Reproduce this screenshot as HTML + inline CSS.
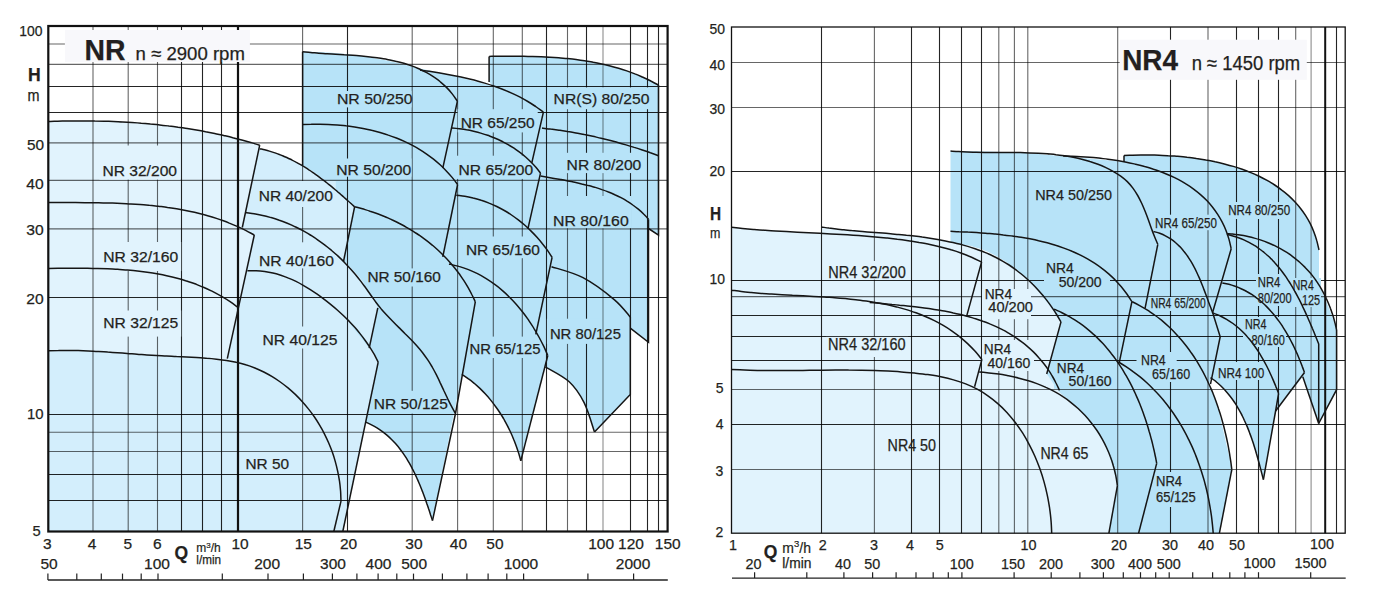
<!DOCTYPE html>
<html><head><meta charset="utf-8"><style>
html,body{margin:0;padding:0;background:#fff;width:1383px;height:603px;overflow:hidden}
svg{display:block;font-family:"Liberation Sans",sans-serif}
</style></head><body>
<svg width="1383" height="603" viewBox="0 0 1383 603">
<rect width="1383" height="603" fill="#fff"/>
<path d="M48.3,121.5 C49.8,121.5 54.5,121.3 57.6,121.2 C60.7,121.1 63.8,121.1 66.9,121 C70,121 73.1,120.9 76.2,120.9 C79.3,120.9 82.4,120.9 85.5,120.9 C88.6,120.9 91.7,120.9 94.8,121 C97.9,121 101,121.1 104.1,121.2 C107.2,121.3 110.3,121.4 113.4,121.5 C116.5,121.6 119.6,121.8 122.7,121.9 C125.8,122.1 128.9,122.3 131.9,122.5 C135,122.7 138.1,122.9 141.2,123.2 C144.3,123.4 147.4,123.7 150.4,124 C153.5,124.2 156.6,124.6 159.7,124.9 C162.8,125.2 165.8,125.6 168.9,126 C172,126.3 175,126.7 178.1,127.2 C181.2,127.6 184.2,128.1 187.3,128.5 C190.3,129 193.4,129.5 196.4,130 C199.5,130.6 202.5,131.1 205.6,131.7 C208.6,132.3 211.6,132.9 214.7,133.5 C217.7,134.2 220.7,134.8 223.7,135.5 C226.7,136.2 229.8,136.9 232.8,137.7 C235.8,138.4 238.8,139.2 241.8,140 C244.8,140.8 247.8,141.7 250.8,142.5 C253.7,143.4 258.2,144.8 259.7,145.2 L259.7,148.7 C260.5,148.9 263,149.4 264.6,149.8 C266.2,150.2 267.8,150.6 269.4,151.1 C271,151.6 272.5,152.1 274.1,152.6 C275.6,153.1 277.2,153.7 278.7,154.2 C280.2,154.8 281.7,155.4 283.2,156 C284.7,156.7 286.2,157.3 287.7,158 C289.2,158.7 290.6,159.4 292.1,160.1 C293.5,160.8 295,161.6 296.4,162.4 C297.8,163.1 299.2,163.9 300.6,164.7 C302,165.6 303.4,166.4 304.8,167.2 C306.2,168.1 307.6,169 308.9,169.9 C310.3,170.7 311.6,171.6 313,172.6 C314.3,173.5 315.7,174.4 317,175.4 C318.3,176.3 319.6,177.3 320.9,178.3 C322.2,179.2 323.5,180.2 324.8,181.2 C326.1,182.2 327.4,183.3 328.7,184.3 C330,185.3 331.2,186.3 332.5,187.4 C333.8,188.4 335,189.5 336.3,190.5 C337.5,191.6 338.7,192.7 340,193.7 C341.2,194.8 342.5,195.9 343.7,197 C344.9,198.1 346.1,199.1 347.3,200.2 C348.6,201.3 349.8,202.4 351,203.5 C352.2,204.6 354,206.3 354.6,206.8 L354.6,206.8 L343.5,261.5 L343.5,261.5 C344.1,261.9 343.7,260.5 347,264 C350.3,267.5 358,275 363.1,282.3 C368.2,289.6 375.4,303.6 377.8,307.8 L377.8,307.8 L369.2,348.1 L369.2,348.1 L378.2,362.1 L378.2,362.1 L342.8,531.5 L342.8,531.5 L48.3,531.5 L48.3,121.5 Z" fill="#d3eefc"/>
<path d="M48.3,121.5 C49.8,121.5 54.5,121.3 57.6,121.2 C60.7,121.1 63.8,121.1 66.9,121 C70,121 73.1,120.9 76.2,120.9 C79.3,120.9 82.4,120.9 85.5,120.9 C88.6,120.9 91.7,120.9 94.8,121 C97.9,121 101,121.1 104.1,121.2 C107.2,121.3 110.3,121.4 113.4,121.5 C116.5,121.6 119.6,121.8 122.7,121.9 C125.8,122.1 128.9,122.3 131.9,122.5 C135,122.7 138.1,122.9 141.2,123.2 C144.3,123.4 147.4,123.7 150.4,124 C153.5,124.2 156.6,124.6 159.7,124.9 C162.8,125.2 165.8,125.6 168.9,126 C172,126.3 175,126.7 178.1,127.2 C181.2,127.6 184.2,128.1 187.3,128.5 C190.3,129 193.4,129.5 196.4,130 C199.5,130.6 202.5,131.1 205.6,131.7 C208.6,132.3 211.6,132.9 214.7,133.5 C217.7,134.2 220.7,134.8 223.7,135.5 C226.7,136.2 229.8,136.9 232.8,137.7 C235.8,138.4 238.8,139.2 241.8,140 C244.8,140.8 247.8,141.7 250.8,142.5 C253.7,143.4 258.2,144.8 259.7,145.2 L259.7,145.2 L242.3,227.5 L242.3,227.5 L254.3,235 L254.3,235 L227.3,358.6 L238.3,362.4 C236.7,362.3 232,361.8 228.8,361.5 C225.7,361.3 222.5,361 219.4,360.7 C216.2,360.4 213,360.1 209.9,359.8 C206.7,359.5 203.6,359.2 200.4,358.9 C197.2,358.6 194.1,358.3 190.9,358.1 C187.8,357.8 184.6,357.5 181.4,357.2 C178.3,356.9 175.1,356.6 172,356.4 C168.8,356.1 165.6,355.8 162.5,355.6 C159.3,355.3 156.1,355 153,354.8 C149.8,354.5 146.6,354.3 143.5,354.1 C140.3,353.8 137.2,353.6 134,353.4 C130.8,353.2 127.6,353 124.5,352.8 C121.3,352.6 118.1,352.4 115,352.2 C111.8,352.1 108.6,351.9 105.5,351.7 C102.3,351.6 99.1,351.5 95.9,351.3 C92.8,351.2 89.6,351.1 86.4,351 C83.3,350.9 80.1,350.9 76.9,350.8 C73.7,350.8 70.6,350.7 67.4,350.7 C64.2,350.7 61,350.7 57.8,350.7 C54.7,350.7 49.9,350.8 48.3,350.8 L48.3,121.5 Z" fill="#e1f3fd"/>
<path d="M302.6,51.7 C304,51.7 308.3,51.7 311.1,51.8 C313.9,51.9 316.8,52 319.6,52.1 C322.4,52.2 325.2,52.4 328.1,52.5 C330.9,52.7 333.7,52.9 336.6,53.2 C339.4,53.4 342.2,53.7 345,54 C347.8,54.3 350.7,54.6 353.5,54.9 C356.3,55.3 359.1,55.7 361.9,56.1 C364.7,56.5 367.5,56.9 370.3,57.4 C373.1,57.8 375.9,58.3 378.7,58.9 C381.5,59.4 384.2,59.9 387,60.5 C389.8,61.1 392.6,61.7 395.3,62.3 C398.1,62.9 400.8,63.5 403.6,64.2 C406.3,64.9 409.1,65.6 411.8,66.3 C414.6,67.1 418.6,68.2 420,68.6 L449,74.4 L492.6,86 L489.1,82 L489.1,56.4 L489.1,56.4 C490.5,56.4 494.8,56.3 497.7,56.3 C500.5,56.3 503.4,56.3 506.3,56.3 C509.2,56.2 512.1,56.2 515,56.3 C517.9,56.3 520.8,56.3 523.7,56.3 C526.6,56.4 529.5,56.4 532.4,56.5 C535.4,56.6 538.3,56.7 541.2,56.8 C544.1,56.9 547,57.1 549.9,57.2 C552.9,57.4 555.8,57.6 558.7,57.8 C561.6,58.1 564.5,58.3 567.4,58.6 C570.3,58.9 573.2,59.2 576.1,59.6 C579,60 581.8,60.4 584.7,60.8 C587.6,61.3 590.4,61.7 593.3,62.3 C596.1,62.8 599,63.4 601.8,64 C604.6,64.6 607.4,65.3 610.2,66 C613,66.7 615.8,67.5 618.6,68.3 C621.3,69.1 624.1,70 626.8,70.9 C629.5,71.8 632.2,72.8 634.9,73.9 C637.6,74.9 640.3,76.1 642.9,77.2 C645.6,78.4 648.2,79.6 650.8,81 C653.4,82.3 657.2,84.4 658.5,85.1 L658.5,235.1 L648.5,228.5 L648.5,342.3 L630.3,328.1 L630.3,394.4 L594.5,432 L594.5,432 C592.8,427.1 588.3,411.1 584.1,402.7 C579.9,394.3 575.7,387.8 569.2,381.8 C562.7,375.8 549.3,369.4 545.3,366.9 L547.8,355.5 L520.8,460.9 L520.8,460.9 C520.5,459.7 519.5,456 518.8,453.6 C518,451.2 517.2,448.8 516.4,446.4 C515.5,444 514.6,441.6 513.6,439.3 C512.7,436.9 511.7,434.5 510.6,432.2 C509.5,429.9 508.4,427.6 507.2,425.3 C506,423 504.7,420.7 503.5,418.5 C502.2,416.3 500.8,414.1 499.4,412 C498,409.8 496.5,407.7 495,405.7 C493.5,403.6 491.9,401.6 490.3,399.6 C488.7,397.6 487,395.7 485.2,393.8 C483.5,392 481.7,390.2 479.9,388.4 C478,386.7 476.1,385 474.2,383.3 C472.2,381.7 470.2,380.1 468.1,378.7 C466.1,377.2 462.9,375.1 461.8,374.4 L461.8,374.4 L432.5,520.6 L432.5,520.6 C432.2,519.7 431.3,516.8 430.6,514.9 C430,513 429.4,511.1 428.7,509.1 C428.1,507.2 427.4,505.3 426.7,503.3 C426.1,501.4 425.4,499.4 424.7,497.5 C424,495.5 423.2,493.6 422.5,491.6 C421.7,489.7 421,487.8 420.2,485.8 C419.4,483.9 418.6,482 417.8,480.1 C416.9,478.2 416.1,476.3 415.2,474.4 C414.3,472.6 413.4,470.7 412.4,468.9 C411.5,467 410.5,465.2 409.5,463.4 C408.5,461.7 407.4,459.9 406.4,458.2 C405.3,456.4 404.1,454.7 403,453.1 C401.8,451.4 400.6,449.8 399.4,448.2 C398.1,446.6 396.8,445.1 395.5,443.6 C394.1,442.1 392.7,440.6 391.3,439.2 C389.9,437.8 388.4,436.4 386.9,435.1 C385.3,433.8 383.7,432.5 382.1,431.3 C380.4,430.1 378.7,429 377,427.9 C375.2,426.8 373.4,425.8 371.5,424.8 C369.6,423.8 366.7,422.5 365.7,422.1 L365.7,422.1 L378.2,362.1 L378.2,362.1 C375.7,357.8 368.3,343.3 363.1,336.3 C357.9,329.3 349.7,322.8 347,320.1 L369.2,348.1 L377.8,307.8 L377.8,307.8 C375.4,303.6 368.2,289.6 363.1,282.3 C358,275 350.3,267.5 347,264 C343.7,260.5 344.1,261.9 343.5,261.5 L343.5,261.5 L354.6,206.8 L354.6,206.8 C354,206.3 352.1,204.9 350.8,203.9 C349.6,202.9 348.3,201.8 347.1,200.8 C345.9,199.8 344.7,198.7 343.5,197.7 C342.3,196.6 341.1,195.6 339.9,194.5 C338.7,193.4 337.5,192.4 336.3,191.3 C335.2,190.2 334,189.1 332.8,188.1 C331.6,187 330.4,185.9 329.2,184.9 C328,183.8 326.8,182.7 325.6,181.7 C324.4,180.7 323.2,179.6 322,178.6 C320.7,177.6 319.5,176.6 318.2,175.6 C317,174.6 315.7,173.7 314.4,172.7 C313.1,171.8 311.8,170.9 310.5,170 C309.1,169.1 307.8,168.3 306.4,167.5 C305,166.6 302.9,165.5 302.2,165.1 L302.2,165.1 L302.6,51.7 Z" fill="#b7e3f8"/>
<line x1="93" y1="26" x2="93" y2="531.5" stroke="rgba(0,0,0,0.6)" stroke-width="1.1"/>
<line x1="128.2" y1="26" x2="128.2" y2="531.5" stroke="rgba(0,0,0,0.6)" stroke-width="1.1"/>
<line x1="157.5" y1="26" x2="157.5" y2="531.5" stroke="rgba(0,0,0,0.6)" stroke-width="1.1"/>
<line x1="181.5" y1="26" x2="181.5" y2="531.5" stroke="rgba(0,0,0,0.86)" stroke-width="1.1"/>
<line x1="202.5" y1="26" x2="202.5" y2="531.5" stroke="rgba(0,0,0,0.86)" stroke-width="1.1"/>
<line x1="221.5" y1="26" x2="221.5" y2="531.5" stroke="rgba(0,0,0,0.86)" stroke-width="1.1"/>
<line x1="302.6" y1="26" x2="302.6" y2="531.5" stroke="rgba(0,0,0,0.6)" stroke-width="1.1"/>
<line x1="347.5" y1="26" x2="347.5" y2="531.5" stroke="rgba(0,0,0,0.86)" stroke-width="1.1"/>
<line x1="412.2" y1="26" x2="412.2" y2="531.5" stroke="rgba(0,0,0,0.6)" stroke-width="1.1"/>
<line x1="457.6" y1="26" x2="457.6" y2="531.5" stroke="rgba(0,0,0,0.6)" stroke-width="1.1"/>
<line x1="493.3" y1="26" x2="493.3" y2="531.5" stroke="rgba(0,0,0,0.6)" stroke-width="1.1"/>
<line x1="522.3" y1="26" x2="522.3" y2="531.5" stroke="rgba(0,0,0,0.6)" stroke-width="1.1"/>
<line x1="546.5" y1="26" x2="546.5" y2="531.5" stroke="rgba(0,0,0,0.86)" stroke-width="1.1"/>
<line x1="567.5" y1="26" x2="567.5" y2="531.5" stroke="rgba(0,0,0,0.6)" stroke-width="1.1"/>
<line x1="586.5" y1="26" x2="586.5" y2="531.5" stroke="rgba(0,0,0,0.86)" stroke-width="1.1"/>
<line x1="603" y1="26" x2="603" y2="531.5" stroke="rgba(0,0,0,0.45)" stroke-width="1.1"/>
<line x1="630.5" y1="26" x2="630.5" y2="531.5" stroke="rgba(0,0,0,0.86)" stroke-width="1.1"/>
<line x1="647.5" y1="26" x2="647.5" y2="531.5" stroke="rgba(0,0,0,0.86)" stroke-width="1.1"/>
<line x1="658.5" y1="26" x2="658.5" y2="531.5" stroke="rgba(0,0,0,0.86)" stroke-width="1.1"/>
<line x1="238" y1="26" x2="238" y2="531.5" stroke="#111" stroke-width="2.2"/>
<line x1="48.3" y1="44" x2="667.6" y2="44" stroke="rgba(0,0,0,0.6)" stroke-width="1.1"/>
<line x1="48.3" y1="64.4" x2="667.6" y2="64.4" stroke="rgba(0,0,0,0.6)" stroke-width="1.1"/>
<line x1="48.3" y1="86.5" x2="667.6" y2="86.5" stroke="rgba(0,0,0,0.86)" stroke-width="1.1"/>
<line x1="48.3" y1="112.5" x2="667.6" y2="112.5" stroke="rgba(0,0,0,0.86)" stroke-width="1.1"/>
<line x1="48.3" y1="142.9" x2="667.6" y2="142.9" stroke="rgba(0,0,0,0.6)" stroke-width="1.1"/>
<line x1="48.3" y1="180.4" x2="667.6" y2="180.4" stroke="rgba(0,0,0,0.6)" stroke-width="1.1"/>
<line x1="48.3" y1="228.9" x2="667.6" y2="228.9" stroke="rgba(0,0,0,0.6)" stroke-width="1.1"/>
<line x1="48.3" y1="297.5" x2="667.6" y2="297.5" stroke="rgba(0,0,0,0.86)" stroke-width="1.1"/>
<line x1="48.3" y1="414.5" x2="667.6" y2="414.5" stroke="rgba(0,0,0,0.86)" stroke-width="1.1"/>
<line x1="48.3" y1="432.3" x2="667.6" y2="432.3" stroke="rgba(0,0,0,0.6)" stroke-width="1.1"/>
<line x1="48.3" y1="451.5" x2="667.6" y2="451.5" stroke="rgba(0,0,0,0.6)" stroke-width="1.1"/>
<line x1="48.3" y1="474.5" x2="667.6" y2="474.5" stroke="rgba(0,0,0,0.86)" stroke-width="1.1"/>
<line x1="48.3" y1="500.5" x2="667.6" y2="500.5" stroke="rgba(0,0,0,0.86)" stroke-width="1.1"/>
<rect x="99.4" y="145.5" width="80.6" height="34.1" fill="#e1f3fd"/>
<rect x="100.3" y="242" width="80.9" height="29" fill="#e1f3fd"/>
<rect x="100.3" y="310.5" width="80.9" height="26.1" fill="#e1f3fd"/>
<rect x="255.7" y="181" width="80.1" height="26" fill="#d3eefc"/>
<rect x="256" y="242.3" width="81" height="26.1" fill="#d3eefc"/>
<rect x="259.5" y="326.5" width="80.9" height="22" fill="#d3eefc"/>
<rect x="242.5" y="455" width="49.6" height="18.8" fill="#d3eefc"/>
<rect x="333.9" y="91" width="77.6" height="16.4" fill="#b7e3f8"/>
<rect x="333.3" y="158.5" width="78.2" height="18.2" fill="#b7e3f8"/>
<rect x="364.4" y="268.4" width="79.4" height="18.1" fill="#b7e3f8"/>
<rect x="370.8" y="390.8" width="80" height="22.8" fill="#b7e3f8"/>
<rect x="457.7" y="109.2" width="80" height="23.2" fill="#b7e3f8"/>
<rect x="455.6" y="155.7" width="80.6" height="23.2" fill="#b7e3f8"/>
<rect x="462.9" y="236.5" width="80" height="21.7" fill="#b7e3f8"/>
<rect x="466.4" y="336.6" width="77.1" height="21.4" fill="#b7e3f8"/>
<rect x="550.6" y="87.4" width="101.8" height="21.8" fill="#b7e3f8"/>
<rect x="563.6" y="152.8" width="80.7" height="20.3" fill="#b7e3f8"/>
<rect x="550.1" y="196" width="81.6" height="32.2" fill="#b7e3f8"/>
<rect x="546.9" y="318.7" width="54.7" height="25.2" fill="#b7e3f8"/>
<path d="M48.3,121.5 C49.8,121.5 54.5,121.3 57.6,121.2 C60.7,121.1 63.8,121.1 66.9,121 C70,121 73.1,120.9 76.2,120.9 C79.3,120.9 82.4,120.9 85.5,120.9 C88.6,120.9 91.7,120.9 94.8,121 C97.9,121 101,121.1 104.1,121.2 C107.2,121.3 110.3,121.4 113.4,121.5 C116.5,121.6 119.6,121.8 122.7,121.9 C125.8,122.1 128.9,122.3 131.9,122.5 C135,122.7 138.1,122.9 141.2,123.2 C144.3,123.4 147.4,123.7 150.4,124 C153.5,124.2 156.6,124.6 159.7,124.9 C162.8,125.2 165.8,125.6 168.9,126 C172,126.3 175,126.7 178.1,127.2 C181.2,127.6 184.2,128.1 187.3,128.5 C190.3,129 193.4,129.5 196.4,130 C199.5,130.6 202.5,131.1 205.6,131.7 C208.6,132.3 211.6,132.9 214.7,133.5 C217.7,134.2 220.7,134.8 223.7,135.5 C226.7,136.2 229.8,136.9 232.8,137.7 C235.8,138.4 238.8,139.2 241.8,140 C244.8,140.8 247.8,141.7 250.8,142.5 C253.7,143.4 258.2,144.8 259.7,145.2" fill="none" stroke="#151515" stroke-width="1.5"/>
<path d="M259.7,145.2 L242.3,227.5" fill="none" stroke="#151515" stroke-width="1.5"/>
<path d="M259.7,148.7 C260.5,148.9 263,149.4 264.6,149.8 C266.2,150.2 267.8,150.6 269.4,151.1 C271,151.6 272.5,152.1 274.1,152.6 C275.6,153.1 277.2,153.7 278.7,154.2 C280.2,154.8 281.7,155.4 283.2,156 C284.7,156.7 286.2,157.3 287.7,158 C289.2,158.7 290.6,159.4 292.1,160.1 C293.5,160.8 295,161.6 296.4,162.4 C297.8,163.1 299.2,163.9 300.6,164.7 C302,165.6 303.4,166.4 304.8,167.2 C306.2,168.1 307.6,169 308.9,169.9 C310.3,170.7 311.6,171.6 313,172.6 C314.3,173.5 315.7,174.4 317,175.4 C318.3,176.3 319.6,177.3 320.9,178.3 C322.2,179.2 323.5,180.2 324.8,181.2 C326.1,182.2 327.4,183.3 328.7,184.3 C330,185.3 331.2,186.3 332.5,187.4 C333.8,188.4 335,189.5 336.3,190.5 C337.5,191.6 338.7,192.7 340,193.7 C341.2,194.8 342.5,195.9 343.7,197 C344.9,198.1 346.1,199.1 347.3,200.2 C348.6,201.3 349.8,202.4 351,203.5 C352.2,204.6 354,206.3 354.6,206.8" fill="none" stroke="#151515" stroke-width="1.5"/>
<path d="M354.6,206.8 L343.5,261.5" fill="none" stroke="#151515" stroke-width="1.5"/>
<path d="M48.3,202.5 C49.8,202.5 54.3,202.5 57.3,202.6 C60.4,202.6 63.4,202.6 66.4,202.6 C69.5,202.6 72.5,202.6 75.6,202.6 C78.6,202.6 81.7,202.6 84.8,202.7 C87.8,202.7 90.9,202.7 94,202.7 C97,202.8 100.1,202.8 103.2,202.9 C106.3,203 109.4,203 112.4,203.1 C115.5,203.2 118.6,203.3 121.7,203.4 C124.7,203.6 127.8,203.7 130.9,203.9 C134,204.1 137,204.3 140.1,204.5 C143.2,204.7 146.2,205 149.3,205.3 C152.3,205.5 155.4,205.9 158.4,206.2 C161.5,206.6 164.5,206.9 167.5,207.4 C170.6,207.8 173.6,208.3 176.6,208.8 C179.6,209.3 182.6,209.8 185.6,210.4 C188.6,211 191.5,211.6 194.5,212.3 C197.5,213 200.4,213.7 203.4,214.5 C206.3,215.3 209.2,216.1 212.1,217 C215,217.9 217.9,218.8 220.8,219.9 C223.6,220.9 226.5,221.9 229.3,223.1 C232.2,224.2 235,225.4 237.8,226.6 C240.6,227.9 243.4,229.2 246.1,230.6 C248.9,232 252.9,234.3 254.3,235" fill="none" stroke="#151515" stroke-width="1.5"/>
<path d="M254.3,235 L227.3,358.6" fill="none" stroke="#151515" stroke-width="1.5"/>
<path d="M245.5,212.6 C246.9,212.8 251.3,213.3 254.2,213.7 C257,214.2 259.9,214.8 262.7,215.4 C265.5,216 268.3,216.8 271.1,217.6 C273.8,218.3 276.6,219.2 279.3,220.2 C282,221.1 284.7,222.2 287.3,223.3 C290,224.4 292.6,225.5 295.2,226.8 C297.8,228 300.4,229.3 302.9,230.7 C305.4,232.1 307.9,233.5 310.3,235 C312.8,236.6 315.2,238.1 317.6,239.8 C319.9,241.4 322.3,243.1 324.6,244.8 C326.8,246.6 329.1,248.4 331.3,250.2 C333.5,252.1 335.7,254 337.8,255.9 C339.9,257.9 342,259.9 344,261.9 C346,264 348,266.1 349.9,268.2 C351.9,270.3 353.7,272.5 355.6,274.7 C357.4,276.9 359.2,279.2 360.9,281.4 C362.7,283.7 364.3,286 366,288.3 C367.7,290.7 369.3,293 370.9,295.3 C372.6,297.6 374.2,300 375.9,302.2 C377.6,304.5 379.4,306.7 381.2,308.9 C383.1,311.1 385,313.2 386.9,315.3 C388.8,317.4 390.9,319.5 392.9,321.5 C394.9,323.6 396.9,325.6 399,327.6 C401,329.6 403.1,331.6 405.1,333.7 C407.2,335.7 409.2,337.7 411.2,339.8 C413.2,341.9 415.1,344 417,346.1 C418.9,348.3 420.8,350.5 422.6,352.7 C424.3,355 426,357.3 427.6,359.7 C429.2,362 430.7,364.5 432.2,367 C433.6,369.5 435,372.1 436.3,374.7 C437.6,377.3 438.9,379.9 440.1,382.6 C441.4,385.2 442.6,387.9 443.8,390.5 C445.1,393.1 446.3,395.8 447.5,398.4 C448.8,401 450,403.6 451.4,406.1 C452.7,408.6 454.8,412.3 455.5,413.5" fill="none" stroke="#151515" stroke-width="1.5"/>
<path d="M377.8,307.8 L369.2,348.1" fill="none" stroke="#151515" stroke-width="1.5"/>
<path d="M48.3,268.4 C49.9,268.4 54.8,268.4 58,268.3 C61.3,268.3 64.6,268.3 67.9,268.3 C71.1,268.3 74.4,268.3 77.7,268.3 C81,268.3 84.4,268.3 87.7,268.3 C91,268.4 94.3,268.4 97.6,268.5 C101,268.6 104.3,268.7 107.6,268.8 C110.9,269 114.3,269.1 117.6,269.3 C120.9,269.5 124.2,269.8 127.5,270 C130.8,270.3 134.1,270.6 137.4,271 C140.7,271.4 144,271.8 147.2,272.2 C150.5,272.7 153.7,273.2 157,273.8 C160.2,274.4 163.4,275 166.6,275.7 C169.8,276.4 173,277.1 176.2,278 C179.3,278.8 182.5,279.7 185.6,280.7 C188.7,281.6 191.8,282.7 194.9,283.8 C197.9,285 201,286.2 204,287.5 C207,288.8 209.9,290.2 212.9,291.6 C215.8,293.1 218.7,294.7 221.6,296.4 C224.4,298 227.3,299.8 230.1,301.7 C232.8,303.5 236.9,306.6 238.3,307.6" fill="none" stroke="#151515" stroke-width="1.5"/>
<path d="M247.4,270.7 C248.9,270.7 253.3,270.6 256.2,270.7 C259.1,270.8 261.9,271.1 264.7,271.5 C267.5,271.9 270.2,272.4 272.9,273 C275.6,273.6 278.2,274.4 280.8,275.2 C283.4,276.1 286,277 288.5,278.1 C291,279.1 293.5,280.2 296,281.4 C298.4,282.6 300.8,283.9 303.2,285.3 C305.6,286.7 307.9,288.1 310.3,289.6 C312.6,291.1 314.9,292.6 317.2,294.2 C319.5,295.8 321.7,297.5 323.9,299.2 C326.2,300.9 328.4,302.6 330.6,304.4 C332.7,306.1 334.9,307.9 337,309.8 C339.1,311.7 341.2,313.6 343.3,315.5 C345.3,317.4 347.3,319.4 349.3,321.4 C351.2,323.5 353.1,325.5 355,327.6 C356.8,329.7 358.6,331.9 360.4,334.1 C362.1,336.2 363.8,338.5 365.4,340.7 C367.1,343 368.6,345.3 370.1,347.6 C371.6,350 373,352.3 374.4,354.7 C375.7,357.2 377.6,360.9 378.2,362.1" fill="none" stroke="#151515" stroke-width="1.5"/>
<path d="M378.2,362.1 L342.8,531.5" fill="none" stroke="#151515" stroke-width="1.5"/>
<path d="M48.3,350.8 C50,350.7 55,350.5 58.4,350.5 C61.7,350.4 65,350.4 68.3,350.4 C71.6,350.4 74.9,350.5 78.2,350.6 C81.5,350.7 84.8,350.8 88.1,350.9 C91.4,351.1 94.6,351.2 97.9,351.4 C101.1,351.6 104.4,351.8 107.7,352.1 C110.9,352.3 114.2,352.5 117.4,352.7 C120.7,353 123.9,353.2 127.2,353.5 C130.4,353.7 133.7,354 137,354.2 C140.2,354.4 143.5,354.7 146.8,354.9 C150.1,355.1 153.4,355.3 156.6,355.5 C159.9,355.7 163.3,355.8 166.6,356 C169.9,356.2 173.2,356.3 176.5,356.5 C179.9,356.6 183.2,356.8 186.5,356.9 C189.9,357.1 193.2,357.3 196.5,357.5 C199.9,357.7 203.2,358 206.6,358.3 C209.9,358.5 213.2,358.8 216.5,359.2 C219.9,359.6 223.2,360 226.5,360.5 C229.8,361 233,361.5 236.2,362.3 C239.4,363 242.6,363.8 245.7,364.8 C248.9,365.7 251.9,366.8 254.9,368 C257.9,369.2 260.9,370.6 263.8,372 C266.7,373.5 269.5,375 272.2,376.7 C275,378.4 277.7,380.2 280.3,382 C283,383.9 285.5,385.9 288,387.9 C290.5,390 292.9,392.2 295.3,394.4 C297.6,396.7 299.9,399 302.1,401.4 C304.3,403.8 306.4,406.3 308.4,408.9 C310.5,411.5 312.4,414.1 314.3,416.8 C316.2,419.5 317.9,422.3 319.6,425.2 C321.3,428 322.9,430.9 324.4,433.8 C325.9,436.8 327.3,439.8 328.6,442.8 C329.9,445.9 331.2,449 332.3,452.1 C333.4,455.2 334.4,458.4 335.3,461.6 C336.2,464.8 337,468.1 337.7,471.3 C338.4,474.6 339,477.9 339.5,481.2 C340,484.5 340.3,487.8 340.6,491.2 C340.8,494.5 340.9,499.5 341,501.2" fill="none" stroke="#151515" stroke-width="1.5"/>
<path d="M341,501.2 L333.8,531.5" fill="none" stroke="#151515" stroke-width="1.5"/>
<path d="M302.6,51.7 C303.9,51.8 307.9,52.3 310.5,52.5 C313.2,52.7 316,53 318.7,53.2 C321.5,53.4 324.3,53.5 327.1,53.7 C329.9,53.9 332.7,54.1 335.6,54.2 C338.4,54.4 341.3,54.6 344.2,54.8 C347,54.9 349.9,55.1 352.8,55.3 C355.7,55.6 358.6,55.8 361.5,56 C364.4,56.3 367.3,56.6 370.2,56.9 C373,57.3 375.9,57.6 378.8,58 C381.6,58.5 384.4,58.9 387.3,59.4 C390.1,60 392.8,60.5 395.6,61.2 C398.3,61.8 401.1,62.5 403.8,63.3 C406.4,64.1 409.1,65 411.7,65.9 C414.3,66.8 416.8,67.9 419.4,69 C421.9,70.1 424.3,71.3 426.7,72.6 C429.1,73.9 431.4,75.3 433.7,76.9 C436,78.4 438.2,80 440.3,81.8 C442.5,83.6 444.5,85.4 446.5,87.4 C448.5,89.4 450.4,91.6 452.2,93.9 C454,96.1 456.5,99.9 457.4,101.1" fill="none" stroke="#151515" stroke-width="1.5"/>
<path d="M457.4,101.1 L442.8,168.2" fill="none" stroke="#151515" stroke-width="1.5"/>
<path d="M420,70 C421.5,70.2 426.1,70.9 429.2,71.3 C432.3,71.8 435.4,72.3 438.5,72.8 C441.6,73.3 444.7,73.8 447.8,74.4 C450.9,75 454,75.6 457.1,76.2 C460.2,76.8 463.3,77.5 466.4,78.2 C469.5,78.9 472.5,79.7 475.6,80.5 C478.6,81.3 481.7,82.2 484.7,83.1 C487.7,84 490.7,84.9 493.7,86 C496.6,87 499.6,88.1 502.5,89.2 C505.4,90.4 508.3,91.6 511.1,92.9 C514,94.2 516.8,95.5 519.6,96.9 C522.4,98.4 525.1,99.9 527.8,101.5 C530.5,103.1 533.1,104.8 535.7,106.5 C538.3,108.3 542.1,111.2 543.4,112.1" fill="none" stroke="#151515" stroke-width="1.5"/>
<path d="M543.4,112.1 L531.8,162.9" fill="none" stroke="#151515" stroke-width="1.5"/>
<path d="M302.6,124.6 C304,124.5 308.3,124.3 311.2,124.3 C314,124.2 316.9,124.2 319.8,124.2 C322.7,124.2 325.6,124.3 328.5,124.4 C331.4,124.5 334.3,124.7 337.2,124.9 C340.1,125.2 343,125.4 345.9,125.8 C348.8,126.1 351.7,126.5 354.6,126.9 C357.4,127.4 360.3,127.9 363.1,128.4 C366,129 368.8,129.6 371.6,130.3 C374.5,130.9 377.3,131.7 380,132.5 C382.8,133.3 385.6,134.1 388.3,135.1 C391,136 393.7,137 396.4,138 C399.1,139.1 401.7,140.2 404.3,141.4 C406.9,142.6 409.5,143.9 412,145.2 C414.5,146.5 417,147.9 419.4,149.4 C421.9,150.9 424.3,152.5 426.6,154.1 C428.9,155.7 431.2,157.4 433.5,159.2 C435.7,161 437.9,162.9 440.1,164.8 C442.2,166.7 444.3,168.8 446.3,170.9 C448.3,173 450.3,175.2 452.1,177.4 C454,179.7 456.7,183.3 457.6,184.5" fill="none" stroke="#151515" stroke-width="1.5"/>
<path d="M457.6,184.5 L442.8,256.8" fill="none" stroke="#151515" stroke-width="1.5"/>
<path d="M452,128 C453.2,128.1 456.8,128.4 459.2,128.7 C461.6,129 464.1,129.3 466.5,129.8 C468.9,130.2 471.3,130.7 473.6,131.2 C476,131.8 478.4,132.4 480.7,133.1 C483.1,133.8 485.4,134.5 487.7,135.3 C490,136.2 492.3,137 494.6,138 C496.8,138.9 499.1,139.9 501.3,141 C503.4,142.1 505.6,143.2 507.7,144.4 C509.8,145.6 511.9,146.9 514,148.2 C516,149.6 518,150.9 519.9,152.4 C521.9,153.9 523.8,155.4 525.6,157 C527.4,158.6 529.2,160.2 530.9,162 C532.7,163.7 534.3,165.5 535.9,167.3 C537.5,169.2 539.7,172.1 540.5,173.1" fill="none" stroke="#151515" stroke-width="1.5"/>
<path d="M540.5,173.1 L527.9,228.8" fill="none" stroke="#151515" stroke-width="1.5"/>
<path d="M489.1,56.4 C490.5,56.4 494.8,56.3 497.7,56.3 C500.5,56.3 503.4,56.3 506.3,56.3 C509.2,56.2 512.1,56.2 515,56.3 C517.9,56.3 520.8,56.3 523.7,56.3 C526.6,56.4 529.5,56.4 532.4,56.5 C535.4,56.6 538.3,56.7 541.2,56.8 C544.1,56.9 547,57.1 549.9,57.2 C552.9,57.4 555.8,57.6 558.7,57.8 C561.6,58.1 564.5,58.3 567.4,58.6 C570.3,58.9 573.2,59.2 576.1,59.6 C579,60 581.8,60.4 584.7,60.8 C587.6,61.3 590.4,61.7 593.3,62.3 C596.1,62.8 599,63.4 601.8,64 C604.6,64.6 607.4,65.3 610.2,66 C613,66.7 615.8,67.5 618.6,68.3 C621.3,69.1 624.1,70 626.8,70.9 C629.5,71.8 632.2,72.8 634.9,73.9 C637.6,74.9 640.3,76.1 642.9,77.2 C645.6,78.4 648.2,79.6 650.8,81 C653.4,82.3 657.2,84.4 658.5,85.1" fill="none" stroke="#151515" stroke-width="1.5"/>
<path d="M542,128.1 C543.4,128.3 547.7,128.7 550.5,129.1 C553.4,129.4 556.2,129.8 559,130.2 C561.8,130.6 564.7,131 567.5,131.5 C570.3,131.9 573.1,132.4 575.9,132.9 C578.7,133.5 581.6,134 584.4,134.6 C587.2,135.1 590,135.7 592.8,136.3 C595.5,136.9 598.3,137.6 601.1,138.2 C603.9,138.9 606.7,139.6 609.4,140.3 C612.2,141 615,141.8 617.7,142.5 C620.5,143.3 623.2,144.1 626,144.9 C628.7,145.7 631.4,146.5 634.2,147.4 C636.9,148.2 639.6,149.1 642.3,150 C645,150.9 647.7,151.8 650.4,152.8 C653.1,153.7 657.2,155.2 658.5,155.7" fill="none" stroke="#151515" stroke-width="1.5"/>
<path d="M354.6,206.8 C355.9,207.1 359.8,208.1 362.4,208.8 C364.9,209.6 367.5,210.3 370,211.2 C372.6,212 375.1,212.9 377.6,213.8 C380.1,214.7 382.6,215.7 385.1,216.7 C387.5,217.8 390,218.8 392.4,220 C394.8,221.1 397.2,222.2 399.5,223.5 C401.9,224.7 404.2,225.9 406.5,227.3 C408.8,228.6 411.1,229.9 413.3,231.3 C415.5,232.8 417.7,234.2 419.9,235.7 C422.1,237.2 424.2,238.8 426.3,240.4 C428.4,242 430.4,243.6 432.5,245.3 C434.5,247 436.4,248.7 438.4,250.5 C440.3,252.3 442.2,254.1 444,256 C445.9,257.8 447.7,259.8 449.4,261.7 C451.2,263.7 452.9,265.7 454.5,267.7 C456.2,269.8 457.8,271.9 459.4,274 C460.9,276.2 462.4,278.4 463.9,280.6 C465.3,282.8 466.7,285.1 468,287.4 C469.3,289.7 470.6,292.1 471.8,294.5 C473.1,296.9 474.7,300.6 475.3,301.8" fill="none" stroke="#151515" stroke-width="1.5"/>
<path d="M475.3,301.8 L455.5,413.5 L432.5,520.6" fill="none" stroke="#151515" stroke-width="1.5"/>
<path d="M456.3,195.2 C457.7,195.4 462,195.8 464.8,196.2 C467.6,196.6 470.3,197.2 473.1,197.9 C475.8,198.5 478.5,199.3 481.2,200.2 C483.9,201 486.5,202 489.1,203.1 C491.7,204.1 494.3,205.3 496.8,206.5 C499.3,207.8 501.8,209.1 504.3,210.5 C506.7,211.9 509.1,213.4 511.5,215 C513.8,216.6 516.1,218.2 518.3,219.9 C520.6,221.7 522.8,223.5 524.9,225.3 C527,227.2 529.1,229.1 531.1,231.1 C533.1,233.1 535.1,235.1 537,237.2 C538.9,239.3 540.7,241.5 542.4,243.7 C544.2,245.9 545.9,248.1 547.5,250.4 C549.1,252.7 551.3,256.2 552.1,257.4" fill="none" stroke="#151515" stroke-width="1.5"/>
<path d="M552.1,257.4 L535.8,334.4" fill="none" stroke="#151515" stroke-width="1.5"/>
<path d="M540.5,176 C541.6,176.2 545,176.8 547.3,177.2 C549.5,177.6 551.8,178 554.1,178.4 C556.4,178.8 558.7,179.2 561,179.6 C563.3,180.1 565.6,180.5 567.9,180.9 C570.2,181.4 572.5,181.8 574.8,182.3 C577.1,182.8 579.4,183.3 581.7,183.9 C584,184.4 586.3,185 588.5,185.6 C590.8,186.1 593.1,186.8 595.3,187.4 C597.5,188.1 599.7,188.8 601.9,189.6 C604.1,190.3 606.3,191.1 608.5,192 C610.6,192.8 612.7,193.7 614.8,194.7 C616.9,195.6 619,196.6 621,197.7 C623.1,198.8 625.1,199.9 627,201.1 C629,202.3 630.9,203.6 632.8,205 C634.7,206.3 636.5,207.7 638.3,209.2 C640.1,210.7 641.9,212.3 643.6,214 C645.3,215.6 647.7,218.3 648.5,219.2" fill="none" stroke="#151515" stroke-width="1.5"/>
<path d="M449,264 C450.7,264.4 455.7,265.4 458.9,266.4 C462.2,267.3 465.4,268.4 468.5,269.6 C471.6,270.9 474.6,272.2 477.5,273.7 C480.5,275.2 483.4,276.9 486.2,278.6 C489,280.3 491.7,282.2 494.4,284.2 C497.1,286.1 499.7,288.2 502.2,290.4 C504.7,292.5 507.1,294.8 509.5,297.2 C511.9,299.5 514.2,301.9 516.4,304.4 C518.6,307 520.7,309.5 522.8,312.2 C524.9,314.8 526.8,317.6 528.7,320.3 C530.6,323.1 532.5,325.9 534.2,328.8 C536,331.7 537.6,334.6 539.2,337.5 C540.8,340.5 542.3,343.4 543.8,346.4 C545.2,349.4 547.1,354 547.8,355.5" fill="none" stroke="#151515" stroke-width="1.5"/>
<path d="M547.8,355.5 L520.8,460.9" fill="none" stroke="#151515" stroke-width="1.5"/>
<path d="M551.5,266.7 C556.8,268.5 572.5,272.2 583,277.7 C593.5,283.2 606.6,293.2 614.5,299.8 C622.4,306.4 627.7,314.2 630.3,317.1" fill="none" stroke="#151515" stroke-width="1.5"/>
<path d="M365.7,422.1 C366.7,422.5 369.6,423.8 371.5,424.8 C373.4,425.8 375.2,426.8 377,427.9 C378.7,429 380.4,430.1 382.1,431.3 C383.7,432.5 385.3,433.8 386.9,435.1 C388.4,436.4 389.9,437.8 391.3,439.2 C392.7,440.6 394.1,442.1 395.5,443.6 C396.8,445.1 398.1,446.6 399.4,448.2 C400.6,449.8 401.8,451.4 403,453.1 C404.1,454.7 405.3,456.4 406.4,458.2 C407.4,459.9 408.5,461.7 409.5,463.4 C410.5,465.2 411.5,467 412.4,468.9 C413.4,470.7 414.3,472.6 415.2,474.4 C416.1,476.3 416.9,478.2 417.8,480.1 C418.6,482 419.4,483.9 420.2,485.8 C421,487.8 421.7,489.7 422.5,491.6 C423.2,493.6 424,495.5 424.7,497.5 C425.4,499.4 426.1,501.4 426.7,503.3 C427.4,505.3 428.1,507.2 428.7,509.1 C429.4,511.1 430,513 430.6,514.9 C431.3,516.8 432.2,519.7 432.5,520.6" fill="none" stroke="#151515" stroke-width="1.5"/>
<path d="M461.8,374.4 C462.9,375.1 466.1,377.2 468.1,378.7 C470.2,380.1 472.2,381.7 474.2,383.3 C476.1,385 478,386.7 479.9,388.4 C481.7,390.2 483.5,392 485.2,393.8 C487,395.7 488.7,397.6 490.3,399.6 C491.9,401.6 493.5,403.6 495,405.7 C496.5,407.7 498,409.8 499.4,412 C500.8,414.1 502.2,416.3 503.5,418.5 C504.7,420.7 506,423 507.2,425.3 C508.4,427.6 509.5,429.9 510.6,432.2 C511.7,434.5 512.7,436.9 513.6,439.3 C514.6,441.6 515.5,444 516.4,446.4 C517.2,448.8 518,451.2 518.8,453.6 C519.5,456 520.5,459.7 520.8,460.9" fill="none" stroke="#151515" stroke-width="1.5"/>
<path d="M545.3,366.9 C549.3,369.4 562.7,375.8 569.2,381.8 C575.7,387.8 579.9,394.3 584.1,402.7 C588.3,411.1 592.8,427.1 594.5,432" fill="none" stroke="#151515" stroke-width="1.5"/>
<path d="M594.5,432 L630.3,394.4 L630.3,317.1" fill="none" stroke="#151515" stroke-width="1.5"/>
<path d="M630.3,328.1 L648.5,342.3 L648.5,219.2" fill="none" stroke="#151515" stroke-width="1.5"/>
<path d="M648.5,228.5 L658.5,235.1 L658.5,85.1" fill="none" stroke="#151515" stroke-width="1.5"/>
<path d="M302.6,51.7 L302.6,165.1" fill="none" stroke="#151515" stroke-width="1.5"/>
<path d="M489.1,56.4 L489.1,82" fill="none" stroke="#151515" stroke-width="1.5"/>
<text x="102.4" y="176" font-size="15.5" textLength="74.6" lengthAdjust="spacingAndGlyphs" fill="#231f20" stroke="#231f20" stroke-width="0.25">NR 32/200</text>
<text x="103.3" y="262.1" font-size="15.5" textLength="74.9" lengthAdjust="spacingAndGlyphs" fill="#231f20" stroke="#231f20" stroke-width="0.25">NR 32/160</text>
<text x="103.3" y="328.2" font-size="15.5" textLength="74.9" lengthAdjust="spacingAndGlyphs" fill="#231f20" stroke="#231f20" stroke-width="0.25">NR 32/125</text>
<text x="258.7" y="201" font-size="15.5" textLength="74.1" lengthAdjust="spacingAndGlyphs" fill="#231f20" stroke="#231f20" stroke-width="0.25">NR 40/200</text>
<text x="259" y="265.6" font-size="15.5" textLength="75" lengthAdjust="spacingAndGlyphs" fill="#231f20" stroke="#231f20" stroke-width="0.25">NR 40/160</text>
<text x="262.5" y="344.8" font-size="15.5" textLength="74.9" lengthAdjust="spacingAndGlyphs" fill="#231f20" stroke="#231f20" stroke-width="0.25">NR 40/125</text>
<text x="245.5" y="468.8" font-size="15.5" textLength="43.6" lengthAdjust="spacingAndGlyphs" fill="#231f20" stroke="#231f20" stroke-width="0.25">NR 50</text>
<text x="336.9" y="103.7" font-size="15.5" textLength="75.7" lengthAdjust="spacingAndGlyphs" fill="#231f20" stroke="#231f20" stroke-width="0.25">NR 50/250</text>
<text x="336.3" y="174.5" font-size="15.5" textLength="75" lengthAdjust="spacingAndGlyphs" fill="#231f20" stroke="#231f20" stroke-width="0.25">NR 50/200</text>
<text x="367.4" y="282.2" font-size="15.5" textLength="73.4" lengthAdjust="spacingAndGlyphs" fill="#231f20" stroke="#231f20" stroke-width="0.25">NR 50/160</text>
<text x="373.8" y="409.1" font-size="15.5" textLength="74" lengthAdjust="spacingAndGlyphs" fill="#231f20" stroke="#231f20" stroke-width="0.25">NR 50/125</text>
<text x="460.7" y="128.1" font-size="15.5" textLength="74" lengthAdjust="spacingAndGlyphs" fill="#231f20" stroke="#231f20" stroke-width="0.25">NR 65/250</text>
<text x="458.6" y="175.4" font-size="15.5" textLength="74.6" lengthAdjust="spacingAndGlyphs" fill="#231f20" stroke="#231f20" stroke-width="0.25">NR 65/200</text>
<text x="465.9" y="255.3" font-size="15.5" textLength="74" lengthAdjust="spacingAndGlyphs" fill="#231f20" stroke="#231f20" stroke-width="0.25">NR 65/160</text>
<text x="469.4" y="354.1" font-size="15.5" textLength="71.1" lengthAdjust="spacingAndGlyphs" fill="#231f20" stroke="#231f20" stroke-width="0.25">NR 65/125</text>
<text x="553.6" y="103.5" font-size="15.5" textLength="95.8" lengthAdjust="spacingAndGlyphs" fill="#231f20" stroke="#231f20" stroke-width="0.25">NR(S) 80/250</text>
<text x="566.6" y="169.6" font-size="15.5" textLength="74.7" lengthAdjust="spacingAndGlyphs" fill="#231f20" stroke="#231f20" stroke-width="0.25">NR 80/200</text>
<text x="553.1" y="226" font-size="15.5" textLength="75.6" lengthAdjust="spacingAndGlyphs" fill="#231f20" stroke="#231f20" stroke-width="0.25">NR 80/160</text>
<text x="549.9" y="338.6" font-size="15.5" textLength="71" lengthAdjust="spacingAndGlyphs" fill="#231f20" stroke="#231f20" stroke-width="0.25">NR 80/125</text>
<rect x="48.3" y="26" width="619.3" height="505.5" fill="none" stroke="#111" stroke-width="2.2"/>
<rect x="64.9" y="30" width="185" height="32" fill="#f8f8fb"/>
<text x="84.6" y="59.9" font-size="29.6" textLength="41" lengthAdjust="spacingAndGlyphs" font-weight="bold" fill="#231f20" stroke="#231f20" stroke-width="0.25">NR</text>
<text x="135.6" y="59.9" font-size="18.5" textLength="109.3" lengthAdjust="spacingAndGlyphs" fill="#231f20" stroke="#231f20" stroke-width="0.25">n ≈ 2900 rpm</text>
<text x="19.3" y="35.9" font-size="15.5" textLength="23.2" lengthAdjust="spacingAndGlyphs" fill="#231f20" stroke="#231f20" stroke-width="0.25">100</text>
<text x="27" y="149.9" font-size="15.5" textLength="17.1" lengthAdjust="spacingAndGlyphs" fill="#231f20" stroke="#231f20" stroke-width="0.25">50</text>
<text x="26.2" y="188.5" font-size="15.5" textLength="17.4" lengthAdjust="spacingAndGlyphs" fill="#231f20" stroke="#231f20" stroke-width="0.25">40</text>
<text x="26.2" y="235.2" font-size="15.5" textLength="17.4" lengthAdjust="spacingAndGlyphs" fill="#231f20" stroke="#231f20" stroke-width="0.25">30</text>
<text x="26.2" y="303.6" font-size="15.5" textLength="17.4" lengthAdjust="spacingAndGlyphs" fill="#231f20" stroke="#231f20" stroke-width="0.25">20</text>
<text x="27" y="419.3" font-size="15.5" textLength="16.6" lengthAdjust="spacingAndGlyphs" fill="#231f20" stroke="#231f20" stroke-width="0.25">10</text>
<text x="32.5" y="535.9" font-size="15.5" textLength="8.2" lengthAdjust="spacingAndGlyphs" fill="#231f20" stroke="#231f20" stroke-width="0.25">5</text>
<text x="27.9" y="81.4" font-size="19" textLength="12.7" lengthAdjust="spacingAndGlyphs" font-weight="bold" fill="#231f20" stroke="#231f20" stroke-width="0.25">H</text>
<text x="27.6" y="100.8" font-size="16" textLength="12" lengthAdjust="spacingAndGlyphs" fill="#231f20" stroke="#231f20" stroke-width="0.25">m</text>
<text x="47.2" y="549.3" font-size="15.5" text-anchor="middle" fill="#231f20" stroke="#231f20" stroke-width="0.25">3</text>
<text x="92" y="549.3" font-size="15.5" text-anchor="middle" fill="#231f20" stroke="#231f20" stroke-width="0.25">4</text>
<text x="127.9" y="549.3" font-size="15.5" text-anchor="middle" fill="#231f20" stroke="#231f20" stroke-width="0.25">5</text>
<text x="157.2" y="549.3" font-size="15.5" text-anchor="middle" fill="#231f20" stroke="#231f20" stroke-width="0.25">6</text>
<text x="240" y="549.3" font-size="15.5" text-anchor="middle" fill="#231f20" stroke="#231f20" stroke-width="0.25">10</text>
<text x="303.3" y="549.3" font-size="15.5" text-anchor="middle" fill="#231f20" stroke="#231f20" stroke-width="0.25">15</text>
<text x="348.6" y="549.3" font-size="15.5" text-anchor="middle" fill="#231f20" stroke="#231f20" stroke-width="0.25">20</text>
<text x="413.9" y="549.3" font-size="15.5" text-anchor="middle" fill="#231f20" stroke="#231f20" stroke-width="0.25">30</text>
<text x="458.4" y="549.3" font-size="15.5" text-anchor="middle" fill="#231f20" stroke="#231f20" stroke-width="0.25">40</text>
<text x="494.9" y="549.3" font-size="15.5" text-anchor="middle" fill="#231f20" stroke="#231f20" stroke-width="0.25">50</text>
<text x="601.2" y="549.3" font-size="15.5" text-anchor="middle" fill="#231f20" stroke="#231f20" stroke-width="0.25">100</text>
<text x="631" y="549.3" font-size="15.5" text-anchor="middle" fill="#231f20" stroke="#231f20" stroke-width="0.25">120</text>
<text x="667.8" y="549.3" font-size="15.5" text-anchor="middle" fill="#231f20" stroke="#231f20" stroke-width="0.25">150</text>
<text x="49" y="568.7" font-size="15.5" text-anchor="middle" fill="#231f20" stroke="#231f20" stroke-width="0.25">50</text>
<text x="157" y="568.7" font-size="15.5" text-anchor="middle" fill="#231f20" stroke="#231f20" stroke-width="0.25">100</text>
<text x="267.2" y="568.7" font-size="15.5" text-anchor="middle" fill="#231f20" stroke="#231f20" stroke-width="0.25">200</text>
<text x="333" y="568.7" font-size="15.5" text-anchor="middle" fill="#231f20" stroke="#231f20" stroke-width="0.25">300</text>
<text x="378.5" y="568.7" font-size="15.5" text-anchor="middle" fill="#231f20" stroke="#231f20" stroke-width="0.25">400</text>
<text x="414.2" y="568.7" font-size="15.5" text-anchor="middle" fill="#231f20" stroke="#231f20" stroke-width="0.25">500</text>
<text x="521" y="568.7" font-size="15.5" text-anchor="middle" fill="#231f20" stroke="#231f20" stroke-width="0.25">1000</text>
<text x="633.1" y="568.7" font-size="15.5" text-anchor="middle" fill="#231f20" stroke="#231f20" stroke-width="0.25">2000</text>
<text x="174.4" y="558.5" font-size="19" textLength="13.6" lengthAdjust="spacingAndGlyphs" font-weight="bold" fill="#231f20" stroke="#231f20" stroke-width="0.25">Q</text>
<text x="196.3" y="552.3" font-size="12" fill="#231f20" stroke="#231f20" stroke-width="0.2">m<tspan font-size="8" dy="-4.5">3</tspan><tspan dy="4.5">/h</tspan></text>
<text x="196.3" y="563.8" font-size="12" textLength="24.7" lengthAdjust="spacingAndGlyphs" fill="#231f20" stroke="#231f20" stroke-width="0.25">l/min</text>
<line x1="47.9" y1="580" x2="667.8" y2="580" stroke="#222" stroke-width="1.3"/>
<line x1="47.9" y1="573.6" x2="47.9" y2="580" stroke="#222" stroke-width="1.2"/>
<line x1="76.8" y1="573.6" x2="76.8" y2="580" stroke="#222" stroke-width="1.2"/>
<line x1="101.3" y1="573.6" x2="101.3" y2="580" stroke="#222" stroke-width="1.2"/>
<line x1="122.5" y1="573.6" x2="122.5" y2="580" stroke="#222" stroke-width="1.2"/>
<line x1="141.2" y1="573.6" x2="141.2" y2="580" stroke="#222" stroke-width="1.2"/>
<line x1="158" y1="573.6" x2="158" y2="580" stroke="#222" stroke-width="1.2"/>
<line x1="222.3" y1="573.6" x2="222.3" y2="580" stroke="#222" stroke-width="1.2"/>
<line x1="268" y1="573.6" x2="268" y2="580" stroke="#222" stroke-width="1.2"/>
<line x1="303.4" y1="573.6" x2="303.4" y2="580" stroke="#222" stroke-width="1.2"/>
<line x1="332.4" y1="573.6" x2="332.4" y2="580" stroke="#222" stroke-width="1.2"/>
<line x1="356.9" y1="573.6" x2="356.9" y2="580" stroke="#222" stroke-width="1.2"/>
<line x1="378.1" y1="573.6" x2="378.1" y2="580" stroke="#222" stroke-width="1.2"/>
<line x1="396.8" y1="573.6" x2="396.8" y2="580" stroke="#222" stroke-width="1.2"/>
<line x1="413.5" y1="573.6" x2="413.5" y2="580" stroke="#222" stroke-width="1.2"/>
<line x1="442.4" y1="573.6" x2="442.4" y2="580" stroke="#222" stroke-width="1.2"/>
<line x1="466.9" y1="573.6" x2="466.9" y2="580" stroke="#222" stroke-width="1.2"/>
<line x1="488.1" y1="573.6" x2="488.1" y2="580" stroke="#222" stroke-width="1.2"/>
<line x1="506.8" y1="573.6" x2="506.8" y2="580" stroke="#222" stroke-width="1.2"/>
<line x1="523.6" y1="573.6" x2="523.6" y2="580" stroke="#222" stroke-width="1.2"/>
<line x1="587.9" y1="573.6" x2="587.9" y2="580" stroke="#222" stroke-width="1.2"/>
<line x1="633.6" y1="573.6" x2="633.6" y2="580" stroke="#222" stroke-width="1.2"/>
<path d="M731.5,227.2 C733.3,227.4 738.7,228 742.4,228.4 C746,228.7 749.7,229.1 753.3,229.4 C757,229.7 760.6,230 764.3,230.2 C768,230.5 771.6,230.8 775.3,231 C779,231.2 782.7,231.4 786.4,231.6 C790.1,231.8 793.8,232 797.5,232.2 C801.2,232.4 804.9,232.6 808.6,232.8 C812.3,233 816,233.1 819.7,233.3 C823.4,233.5 827.1,233.7 830.9,233.9 C834.6,234.1 838.3,234.3 842,234.5 C845.7,234.7 849.4,235 853.1,235.2 C856.8,235.5 860.5,235.7 864.2,236 C867.9,236.3 871.6,236.6 875.2,236.9 C878.9,237.3 882.6,237.6 886.3,238 C889.9,238.4 893.6,238.8 897.3,239.3 C900.9,239.7 904.6,240.2 908.2,240.7 C911.8,241.3 915.5,241.8 919.1,242.5 C922.7,243.1 926.3,243.7 929.9,244.5 C933.4,245.2 937,246 940.5,246.9 C944.1,247.8 947.6,248.7 951.1,249.8 C954.6,250.8 958,251.9 961.5,253.2 C964.9,254.4 968.3,255.8 971.6,257.2 C975,258.7 979.9,261.2 981.6,262 L821.6,233.2 L821.6,227 L821.6,227 C822.8,227.2 826.5,227.7 828.9,228.1 C831.4,228.4 833.9,228.7 836.4,229 C838.9,229.3 841.4,229.5 843.9,229.8 C846.5,230.1 849,230.3 851.6,230.6 C854.1,230.8 856.7,231 859.3,231.2 C861.9,231.5 864.5,231.7 867.1,231.9 C869.7,232.1 872.3,232.3 874.9,232.5 C877.5,232.7 880.1,232.9 882.8,233.1 C885.4,233.4 888,233.6 890.6,233.8 C893.3,234 895.9,234.3 898.5,234.5 C901.2,234.7 903.8,235 906.4,235.3 C909.1,235.5 911.7,235.8 914.3,236.1 C916.9,236.4 919.5,236.7 922.2,237.1 C924.8,237.4 927.4,237.8 930,238.2 C932.5,238.6 935.1,239 937.7,239.4 C940.3,239.9 942.8,240.4 945.4,240.9 C947.9,241.4 950.4,241.9 953,242.5 C955.5,243.1 958,243.7 960.5,244.3 C962.9,245 965.4,245.7 967.8,246.4 C970.3,247.1 972.7,247.9 975.1,248.7 C977.5,249.5 979.9,250.4 982.2,251.3 C984.6,252.3 986.9,253.2 989.2,254.2 C991.5,255.3 993.7,256.3 996,257.5 C998.2,258.6 1000.4,259.8 1002.6,261.1 C1004.8,262.3 1006.9,263.6 1009.1,265 C1011.2,266.4 1013.2,267.8 1015.3,269.3 C1017.3,270.8 1019.3,272.4 1021.3,274 C1023.3,275.6 1025.2,277.2 1027.1,279 C1029,280.7 1030.9,282.4 1032.7,284.3 C1034.5,286.1 1036.3,288 1038.1,289.9 C1039.8,291.8 1041.5,293.8 1043.2,295.8 C1044.8,297.8 1046.5,299.8 1048,301.9 C1049.6,304 1051.1,306.2 1052.6,308.4 C1054.1,310.5 1055.6,312.8 1056.9,315 C1058.3,317.3 1060.3,320.8 1061,321.9 L1061,321.9 L1046.7,374 L1046.7,374 L1059.5,391 L1059.5,392.2 C1064.1,396.5 1079,408.5 1086.9,418 C1094.8,427.5 1101.6,437.7 1106.7,449 C1111.8,460.3 1115.6,479.6 1117.4,485.7 L1117.4,485.7 L1108.9,533.2 L1108.9,533.2 L731.5,533.2 L731.5,227.2 Z" fill="#e1f3fd"/>
<path d="M950.5,151 C956.5,151.1 973.5,151.2 986.5,151.6 C999.5,152 1015.5,152.4 1028.3,153.2 C1041.1,154 1057.3,155.8 1063.1,156.3 L1063.1,156.3 L1102.6,159.7 L1124,162 L1124,162 L1124,155.5 L1124,155.5 C1125.4,155.4 1129.5,155.3 1132.4,155.2 C1135.2,155.1 1138.1,155 1141,155 C1144,155 1146.9,155 1149.9,155 C1152.9,155.1 1156,155.1 1159,155.2 C1162.1,155.3 1165.1,155.5 1168.2,155.7 C1171.3,155.8 1174.5,156.1 1177.6,156.3 C1180.7,156.6 1183.8,156.9 1187,157.3 C1190.1,157.6 1193.2,158 1196.4,158.5 C1199.5,158.9 1202.6,159.4 1205.8,160 C1208.9,160.5 1212,161.1 1215.1,161.8 C1218.2,162.4 1221.2,163.1 1224.3,163.9 C1227.3,164.7 1230.3,165.5 1233.3,166.4 C1236.3,167.3 1239.3,168.3 1242.2,169.3 C1245.1,170.3 1247.9,171.4 1250.8,172.6 C1253.6,173.7 1256.4,175 1259.1,176.3 C1261.8,177.6 1264.5,179 1267.1,180.4 C1269.7,181.9 1272.2,183.4 1274.7,185 C1277.1,186.6 1279.5,188.3 1281.8,190.1 C1284.2,191.8 1286.4,193.7 1288.6,195.6 C1290.7,197.5 1292.8,199.6 1294.8,201.7 C1296.8,203.8 1298.7,206 1300.4,208.3 C1302.2,210.6 1303.9,213 1305.5,215.4 C1307.1,217.9 1308.6,220.5 1310,223.2 C1311.3,225.8 1312.6,228.6 1313.7,231.5 C1314.8,234.4 1315.9,237.3 1316.7,240.4 C1317.6,243.5 1318.6,248.4 1319,250 L1319,250 L1319,280 L1318.1,283.1 C1319.2,285.6 1322.6,292.8 1324.8,298 C1327,303.2 1329.4,309.3 1331.4,314.6 C1333.4,319.9 1335.7,327.4 1336.6,330 L1336.6,330 L1336.6,389.7 L1318.7,423.5 L1318.7,423.5 L1302.8,376.8 L1275.6,411 L1263.4,479.6 L1263.4,479.6 C1263.1,478.5 1262.3,475.3 1261.7,473.1 C1261.2,471 1260.6,468.8 1260,466.6 C1259.5,464.3 1258.9,462.1 1258.2,459.9 C1257.6,457.7 1257,455.4 1256.3,453.2 C1255.7,450.9 1255,448.7 1254.3,446.5 C1253.6,444.2 1252.9,442 1252.1,439.8 C1251.3,437.5 1250.6,435.3 1249.7,433.1 C1248.9,430.9 1248.1,428.7 1247.2,426.6 C1246.3,424.4 1245.3,422.3 1244.3,420.2 C1243.4,418 1242.3,416 1241.3,413.9 C1240.2,411.8 1239.1,409.8 1237.9,407.8 C1236.8,405.9 1235.5,403.9 1234.3,402 C1233,400.1 1231.7,398.3 1230.3,396.5 C1228.9,394.7 1227.4,392.9 1225.9,391.2 C1224.4,389.5 1222.8,387.9 1221.2,386.3 C1219.6,384.7 1217.8,383.2 1216.1,381.7 C1214.3,380.3 1211.4,378.3 1210.5,377.6 L1210.5,377.6 L1209.5,383.8 L1218.6,409.4 C1220.1,416.2 1225.6,440 1227.8,450 C1230,460 1231.1,466.3 1231.8,469.6 L1231.8,469.6 L1219.4,533.2 L1219.4,533.2 L1108.9,533.2 L1117.4,485.7 L1117.4,485.7 C1115.6,479.6 1111.8,460.3 1106.7,449 C1101.6,437.7 1094.8,427.5 1086.9,418 C1079,408.5 1064.1,396.5 1059.5,392.2 L1059.5,392.2 L1046.7,374 L1061,321.9 L1061,321.9 C1060.5,321.1 1058.9,318.8 1057.9,317.3 C1056.8,315.8 1055.8,314.2 1054.7,312.7 C1053.6,311.2 1052.5,309.7 1051.4,308.2 C1050.3,306.6 1049.2,305.1 1048.1,303.6 C1046.9,302.1 1045.8,300.7 1044.6,299.2 C1043.4,297.7 1042.3,296.2 1041.1,294.8 C1039.9,293.3 1038.7,291.9 1037.4,290.5 C1036.2,289.1 1034.9,287.7 1033.7,286.3 C1032.4,284.9 1031.1,283.5 1029.8,282.2 C1028.5,280.9 1027.2,279.5 1025.9,278.2 C1024.5,276.9 1023.2,275.7 1021.8,274.4 C1020.4,273.2 1019,271.9 1017.6,270.7 C1016.2,269.5 1014.7,268.4 1013.3,267.2 C1011.8,266.1 1010.3,265 1008.8,263.9 C1007.3,262.8 1005.8,261.8 1004.2,260.8 C1002.7,259.8 1001.1,258.8 999.5,257.9 C998,256.9 996.3,256 994.7,255.2 C993.1,254.3 991.4,253.5 989.7,252.7 C988,251.9 986.3,251.2 984.6,250.5 C982.9,249.8 981.1,249.2 979.3,248.6 C977.5,248 975.7,247.4 973.9,246.9 C972.1,246.4 970.2,246 968.3,245.6 C966.4,245.2 963.6,244.7 962.6,244.5 L962.6,244.5 L950.5,242.3 L950.5,151 Z" fill="#b7e3f8"/>
<line x1="821.5" y1="27" x2="821.5" y2="533.2" stroke="rgba(0,0,0,0.86)" stroke-width="1.1"/>
<line x1="874.4" y1="27" x2="874.4" y2="533.2" stroke="rgba(0,0,0,0.6)" stroke-width="1.1"/>
<line x1="911.5" y1="27" x2="911.5" y2="533.2" stroke="rgba(0,0,0,0.86)" stroke-width="1.1"/>
<line x1="939.5" y1="27" x2="939.5" y2="533.2" stroke="rgba(0,0,0,0.86)" stroke-width="1.1"/>
<line x1="961.5" y1="27" x2="961.5" y2="533.2" stroke="rgba(0,0,0,0.86)" stroke-width="1.1"/>
<line x1="981.5" y1="27" x2="981.5" y2="533.2" stroke="rgba(0,0,0,0.86)" stroke-width="1.1"/>
<line x1="998.8" y1="27" x2="998.8" y2="533.2" stroke="rgba(0,0,0,0.6)" stroke-width="1.1"/>
<line x1="1014.4" y1="27" x2="1014.4" y2="533.2" stroke="rgba(0,0,0,0.6)" stroke-width="1.1"/>
<line x1="1027.8" y1="27" x2="1027.8" y2="533.2" stroke="rgba(0,0,0,0.6)" stroke-width="1.1"/>
<line x1="1117.7" y1="27" x2="1117.7" y2="533.2" stroke="rgba(0,0,0,0.6)" stroke-width="1.1"/>
<line x1="1170.5" y1="27" x2="1170.5" y2="533.2" stroke="rgba(0,0,0,0.86)" stroke-width="1.1"/>
<line x1="1208" y1="27" x2="1208" y2="533.2" stroke="rgba(0,0,0,0.6)" stroke-width="1.1"/>
<line x1="1236.5" y1="27" x2="1236.5" y2="533.2" stroke="rgba(0,0,0,0.86)" stroke-width="1.1"/>
<line x1="1258.5" y1="27" x2="1258.5" y2="533.2" stroke="rgba(0,0,0,0.86)" stroke-width="1.1"/>
<line x1="1278.5" y1="27" x2="1278.5" y2="533.2" stroke="rgba(0,0,0,0.86)" stroke-width="1.1"/>
<line x1="1295.7" y1="27" x2="1295.7" y2="533.2" stroke="rgba(0,0,0,0.6)" stroke-width="1.1"/>
<line x1="1311.1" y1="27" x2="1311.1" y2="533.2" stroke="rgba(0,0,0,0.45)" stroke-width="1.1"/>
<line x1="1336.5" y1="27" x2="1336.5" y2="533.2" stroke="rgba(0,0,0,0.86)" stroke-width="1.1"/>
<line x1="1325.2" y1="27" x2="1325.2" y2="533.2" stroke="#111" stroke-width="2"/>
<line x1="731.5" y1="62.5" x2="1345.2" y2="62.5" stroke="rgba(0,0,0,0.6)" stroke-width="1.1"/>
<line x1="731.5" y1="107.5" x2="1345.2" y2="107.5" stroke="rgba(0,0,0,0.6)" stroke-width="1.1"/>
<line x1="731.5" y1="171.5" x2="1345.2" y2="171.5" stroke="rgba(0,0,0,0.86)" stroke-width="1.1"/>
<line x1="731.5" y1="280.5" x2="1345.2" y2="280.5" stroke="rgba(0,0,0,0.86)" stroke-width="1.1"/>
<line x1="731.5" y1="296.6" x2="1345.2" y2="296.6" stroke="rgba(0,0,0,0.6)" stroke-width="1.1"/>
<line x1="731.5" y1="315.5" x2="1345.2" y2="315.5" stroke="rgba(0,0,0,0.86)" stroke-width="1.1"/>
<line x1="731.5" y1="336.5" x2="1345.2" y2="336.5" stroke="rgba(0,0,0,0.86)" stroke-width="1.1"/>
<line x1="731.5" y1="360.5" x2="1345.2" y2="360.5" stroke="rgba(0,0,0,0.86)" stroke-width="1.1"/>
<line x1="731.5" y1="389.5" x2="1345.2" y2="389.5" stroke="rgba(0,0,0,0.6)" stroke-width="1.1"/>
<line x1="731.5" y1="424.5" x2="1345.2" y2="424.5" stroke="rgba(0,0,0,0.86)" stroke-width="1.1"/>
<line x1="731.5" y1="469.5" x2="1345.2" y2="469.5" stroke="rgba(0,0,0,0.6)" stroke-width="1.1"/>
<rect x="826" y="261" width="82" height="18.6" fill="#e1f3fd"/>
<rect x="826" y="336.9" width="82" height="20.1" fill="#e1f3fd"/>
<rect x="982" y="289" width="49" height="30.2" fill="#e1f3fd"/>
<rect x="982" y="340" width="52" height="31" fill="#e1f3fd"/>
<rect x="1044" y="262" width="66" height="29" fill="#b7e3f8"/>
<rect x="1054" y="361.5" width="58" height="27.3" fill="#b7e3f8"/>
<rect x="1153" y="214.7" width="66" height="15.5" fill="#b7e3f8"/>
<rect x="1226" y="202" width="66" height="17" fill="#b7e3f8"/>
<rect x="1256" y="274" width="36" height="32" fill="#b7e3f8"/>
<rect x="1291" y="278" width="30" height="29" fill="#b7e3f8"/>
<rect x="1149" y="297" width="58" height="14" fill="#b7e3f8"/>
<rect x="1243" y="317" width="43" height="30" fill="#b7e3f8"/>
<rect x="1216" y="362" width="50" height="18" fill="#b7e3f8"/>
<rect x="1136.5" y="352" width="40.2" height="15" fill="#b7e3f8"/>
<rect x="1150" y="367" width="42" height="15" fill="#b7e3f8"/>
<rect x="1154" y="472" width="44" height="35" fill="#b7e3f8"/>
<path d="M731.5,227.2 C733.3,227.4 738.7,228 742.4,228.4 C746,228.7 749.7,229.1 753.3,229.4 C757,229.7 760.6,230 764.3,230.2 C768,230.5 771.6,230.8 775.3,231 C779,231.2 782.7,231.4 786.4,231.6 C790.1,231.8 793.8,232 797.5,232.2 C801.2,232.4 804.9,232.6 808.6,232.8 C812.3,233 816,233.1 819.7,233.3 C823.4,233.5 827.1,233.7 830.9,233.9 C834.6,234.1 838.3,234.3 842,234.5 C845.7,234.7 849.4,235 853.1,235.2 C856.8,235.5 860.5,235.7 864.2,236 C867.9,236.3 871.6,236.6 875.2,236.9 C878.9,237.3 882.6,237.6 886.3,238 C889.9,238.4 893.6,238.8 897.3,239.3 C900.9,239.7 904.6,240.2 908.2,240.7 C911.8,241.3 915.5,241.8 919.1,242.5 C922.7,243.1 926.3,243.7 929.9,244.5 C933.4,245.2 937,246 940.5,246.9 C944.1,247.8 947.6,248.7 951.1,249.8 C954.6,250.8 958,251.9 961.5,253.2 C964.9,254.4 968.3,255.8 971.6,257.2 C975,258.7 979.9,261.2 981.6,262" fill="none" stroke="#151515" stroke-width="1.5"/>
<path d="M981.6,262 L966.8,315.6" fill="none" stroke="#151515" stroke-width="1.5"/>
<path d="M821.6,227 C822.8,227.2 826.5,227.7 828.9,228.1 C831.4,228.4 833.9,228.7 836.4,229 C838.9,229.3 841.4,229.5 843.9,229.8 C846.5,230.1 849,230.3 851.6,230.6 C854.1,230.8 856.7,231 859.3,231.2 C861.9,231.5 864.5,231.7 867.1,231.9 C869.7,232.1 872.3,232.3 874.9,232.5 C877.5,232.7 880.1,232.9 882.8,233.1 C885.4,233.4 888,233.6 890.6,233.8 C893.3,234 895.9,234.3 898.5,234.5 C901.2,234.7 903.8,235 906.4,235.3 C909.1,235.5 911.7,235.8 914.3,236.1 C916.9,236.4 919.5,236.7 922.2,237.1 C924.8,237.4 927.4,237.8 930,238.2 C932.5,238.6 935.1,239 937.7,239.4 C940.3,239.9 942.8,240.4 945.4,240.9 C947.9,241.4 950.4,241.9 953,242.5 C955.5,243.1 958,243.7 960.5,244.3 C962.9,245 965.4,245.7 967.8,246.4 C970.3,247.1 972.7,247.9 975.1,248.7 C977.5,249.5 979.9,250.4 982.2,251.3 C984.6,252.3 986.9,253.2 989.2,254.2 C991.5,255.3 993.7,256.3 996,257.5 C998.2,258.6 1000.4,259.8 1002.6,261.1 C1004.8,262.3 1006.9,263.6 1009.1,265 C1011.2,266.4 1013.2,267.8 1015.3,269.3 C1017.3,270.8 1019.3,272.4 1021.3,274 C1023.3,275.6 1025.2,277.2 1027.1,279 C1029,280.7 1030.9,282.4 1032.7,284.3 C1034.5,286.1 1036.3,288 1038.1,289.9 C1039.8,291.8 1041.5,293.8 1043.2,295.8 C1044.8,297.8 1046.5,299.8 1048,301.9 C1049.6,304 1051.1,306.2 1052.6,308.4 C1054.1,310.5 1055.6,312.8 1056.9,315 C1058.3,317.3 1060.3,320.8 1061,321.9" fill="none" stroke="#151515" stroke-width="1.5"/>
<path d="M1061,321.9 L1046.7,374" fill="none" stroke="#151515" stroke-width="1.5"/>
<path d="M731.5,290.2 C733.1,290.4 738,291.1 741.3,291.5 C744.5,291.9 747.9,292.2 751.2,292.5 C754.5,292.8 757.9,293.1 761.3,293.4 C764.7,293.6 768.1,293.9 771.6,294.1 C775,294.3 778.5,294.5 782,294.7 C785.4,294.9 788.9,295.1 792.4,295.3 C795.9,295.4 799.4,295.6 803,295.8 C806.5,296 810,296.2 813.5,296.4 C817.1,296.6 820.6,296.8 824.1,297 C827.7,297.2 831.2,297.5 834.7,297.7 C838.2,298 841.8,298.3 845.3,298.6 C848.8,299 852.3,299.3 855.8,299.7 C859.2,300.1 862.7,300.6 866.2,301.1 C869.6,301.6 873,302.1 876.5,302.7 C879.9,303.3 883.2,303.9 886.6,304.6 C890,305.3 893.3,306.1 896.6,306.9 C899.9,307.8 903.2,308.7 906.4,309.6 C909.6,310.6 912.8,311.7 916,312.8 C919.1,313.9 922.3,315.1 925.3,316.5 C928.4,317.8 931.4,319.1 934.4,320.6 C937.4,322.1 940.3,323.7 943.2,325.4 C946.1,327.1 948.9,328.9 951.7,330.8 C954.4,332.7 957.2,334.7 959.8,336.8 C962.5,339 965.1,341.2 967.6,343.6 C970.1,346 972.6,348.5 974.9,351.1 C977.3,353.7 980.7,358 981.9,359.4" fill="none" stroke="#151515" stroke-width="1.5"/>
<path d="M981.9,359.4 L974.6,386.7" fill="none" stroke="#151515" stroke-width="1.5"/>
<path d="M869.7,302.5 C870.9,302.6 874.6,302.9 877,303.1 C879.5,303.4 882,303.6 884.5,303.8 C887,304 889.5,304.2 892,304.5 C894.5,304.7 897,304.9 899.6,305.2 C902.1,305.4 904.7,305.7 907.2,305.9 C909.8,306.2 912.4,306.5 914.9,306.8 C917.5,307.1 920.1,307.4 922.6,307.7 C925.2,308.1 927.8,308.4 930.4,308.8 C932.9,309.2 935.5,309.6 938,310 C940.6,310.4 943.2,310.9 945.7,311.3 C948.2,311.8 950.8,312.3 953.3,312.9 C955.8,313.4 958.3,314 960.8,314.6 C963.3,315.2 965.8,315.9 968.2,316.5 C970.7,317.2 973.1,318 975.6,318.7 C978,319.5 980.4,320.3 982.8,321.2 C985.1,322 987.5,322.9 989.8,323.9 C992.1,324.8 994.4,325.8 996.7,326.9 C998.9,327.9 1001.2,329 1003.4,330.2 C1005.6,331.3 1007.7,332.6 1009.8,333.8 C1012,335.1 1014.1,336.4 1016.1,337.8 C1018.2,339.2 1020.2,340.7 1022.1,342.2 C1024.1,343.7 1026,345.2 1027.9,346.9 C1029.8,348.5 1031.6,350.2 1033.4,351.9 C1035.2,353.7 1036.9,355.5 1038.6,357.4 C1040.3,359.2 1041.9,361.2 1043.5,363.2 C1045,365.2 1046.6,367.2 1048,369.4 C1049.5,371.5 1050.9,373.7 1052.2,376 C1053.6,378.3 1054.8,380.6 1056,383 C1057.3,385.4 1058.9,389.2 1059.5,390.4" fill="none" stroke="#151515" stroke-width="1.5"/>
<path d="M731.5,369.4 C733.7,369.5 740.1,369.8 744.5,370 C748.8,370.2 753.1,370.3 757.4,370.4 C761.8,370.4 766.1,370.5 770.4,370.5 C774.7,370.6 779.1,370.5 783.4,370.5 C787.7,370.5 792.1,370.5 796.4,370.5 C800.7,370.4 805.1,370.4 809.4,370.3 C813.7,370.3 818.1,370.2 822.4,370.2 C826.8,370.1 831.1,370.1 835.5,370.1 C839.9,370.1 844.2,370 848.6,370.1 C852.9,370.1 857.3,370.1 861.7,370.2 C866.1,370.3 870.5,370.4 874.8,370.5 C879.2,370.6 883.6,370.8 888,371 C892.4,371.3 896.8,371.5 901.3,371.9 C905.7,372.2 910.1,372.6 914.5,373 C918.9,373.5 923.4,374 927.8,374.6 C932.1,375.3 936.5,376 940.8,376.8 C945.1,377.7 949.4,378.7 953.5,379.9 C957.7,381.1 961.8,382.4 965.7,383.9 C969.7,385.5 973.5,387.2 977.2,389.2 C980.9,391.2 984.5,393.4 987.9,395.8 C991.4,398.2 994.7,400.8 997.8,403.6 C1001,406.3 1004,409.3 1006.9,412.4 C1009.8,415.6 1012.5,418.9 1015.1,422.3 C1017.7,425.7 1020.2,429.3 1022.6,432.9 C1024.9,436.6 1027.1,440.4 1029.1,444.3 C1031.2,448.2 1033.1,452.2 1034.9,456.2 C1036.7,460.3 1038.3,464.5 1039.8,468.6 C1041.3,472.8 1042.7,477.1 1043.9,481.4 C1045.1,485.7 1046.2,490 1047.1,494.3 C1048.1,498.7 1048.8,503 1049.5,507.4 C1050.1,511.7 1050.7,516.1 1051,520.4 C1051.4,524.7 1051.6,531.1 1051.7,533.2" fill="none" stroke="#151515" stroke-width="1.5"/>
<path d="M979.2,372.1 C980.8,372.2 985.7,372.6 988.9,372.9 C992.2,373.3 995.5,373.7 998.7,374.1 C1002,374.6 1005.2,375.2 1008.5,375.8 C1011.7,376.4 1014.9,377.1 1018.1,377.9 C1021.3,378.7 1024.5,379.5 1027.6,380.5 C1030.8,381.4 1033.9,382.5 1036.9,383.6 C1040,384.8 1043,386 1045.9,387.4 C1048.9,388.7 1051.8,390.1 1054.6,391.7 C1057.4,393.2 1060.2,394.9 1062.9,396.7 C1065.6,398.4 1068.2,400.3 1070.7,402.3 C1073.3,404.3 1075.7,406.4 1078.1,408.5 C1080.4,410.7 1082.7,413 1084.9,415.3 C1087.1,417.7 1089.2,420.2 1091.2,422.7 C1093.2,425.2 1095.1,427.8 1097,430.5 C1098.8,433.2 1100.5,436 1102.1,438.8 C1103.7,441.6 1105.2,444.6 1106.5,447.5 C1107.9,450.5 1109.2,453.5 1110.3,456.6 C1111.5,459.7 1112.5,462.8 1113.4,466 C1114.4,469.2 1115.1,472.4 1115.8,475.7 C1116.5,479 1117.1,484 1117.4,485.7" fill="none" stroke="#151515" stroke-width="1.5"/>
<path d="M1117.4,485.7 L1108.9,533.2" fill="none" stroke="#151515" stroke-width="1.5"/>
<path d="M950.5,151 C951.9,151.1 956,151.5 958.8,151.6 C961.6,151.8 964.5,151.9 967.3,152 C970.2,152.2 973.1,152.2 976,152.3 C978.9,152.4 981.8,152.4 984.7,152.4 C987.6,152.5 990.6,152.5 993.6,152.5 C996.5,152.5 999.5,152.5 1002.5,152.5 C1005.4,152.5 1008.4,152.5 1011.4,152.5 C1014.4,152.6 1017.4,152.6 1020.4,152.6 C1023.4,152.7 1026.4,152.8 1029.3,152.9 C1032.3,153 1035.3,153.1 1038.3,153.2 C1041.2,153.4 1044.2,153.6 1047.2,153.8 C1050.1,154.1 1053,154.3 1056,154.7 C1058.9,155 1061.8,155.4 1064.7,155.8 C1067.5,156.2 1070.4,156.7 1073.2,157.3 C1076.1,157.9 1078.9,158.5 1081.7,159.2 C1084.5,159.9 1087.2,160.6 1089.9,161.5 C1092.7,162.3 1095.4,163.3 1098,164.3 C1100.7,165.3 1103.3,166.4 1105.9,167.6 C1108.4,168.8 1111,170.1 1113.5,171.6 C1115.9,173 1118.4,174.5 1120.7,176.1 C1123,177.8 1125.3,179.6 1127.3,181.6 C1129.3,183.6 1131.2,185.8 1132.9,188.1 C1134.7,190.5 1136.2,193 1137.7,195.5 C1139.2,198.1 1140.5,200.8 1141.8,203.5 C1143,206.2 1144.2,209 1145.3,211.8 C1146.4,214.6 1147.5,217.5 1148.5,220.3 C1149.5,223.1 1150.5,225.9 1151.5,228.7 C1152.5,231.4 1153.5,234.2 1154.6,236.8 C1155.6,239.4 1157.3,243 1157.8,244.3" fill="none" stroke="#151515" stroke-width="1.5"/>
<path d="M1157.8,244.3 L1145.1,308.2" fill="none" stroke="#151515" stroke-width="1.5"/>
<path d="M950.5,231.3 C951.9,231.4 956.2,231.5 959.1,231.7 C962,231.8 964.9,231.9 967.8,232.1 C970.7,232.2 973.7,232.4 976.6,232.6 C979.6,232.8 982.5,233 985.5,233.2 C988.4,233.4 991.4,233.7 994.4,233.9 C997.3,234.2 1000.3,234.5 1003.3,234.9 C1006.3,235.2 1009.2,235.6 1012.2,236 C1015.2,236.4 1018.1,236.8 1021.1,237.3 C1024,237.8 1026.9,238.3 1029.9,238.8 C1032.8,239.4 1035.7,240 1038.6,240.7 C1041.5,241.3 1044.3,242 1047.2,242.8 C1050,243.6 1052.8,244.4 1055.6,245.3 C1058.4,246.1 1061.2,247.1 1063.9,248.1 C1066.6,249.1 1069.3,250.1 1072,251.3 C1074.7,252.4 1077.3,253.6 1079.9,254.9 C1082.4,256.1 1085,257.5 1087.5,258.9 C1090,260.3 1092.4,261.8 1094.9,263.4 C1097.3,265 1099.6,266.6 1101.9,268.4 C1104.2,270.1 1106.5,272 1108.7,273.9 C1110.8,275.8 1113,277.8 1115.1,279.9 C1117.1,282 1119.1,284.2 1121.1,286.5 C1123,288.9 1124.9,291.3 1126.7,293.8 C1128.5,296.3 1131,300.3 1131.9,301.6" fill="none" stroke="#151515" stroke-width="1.5"/>
<path d="M1131.9,301.6 L1119.2,362.8" fill="none" stroke="#151515" stroke-width="1.5"/>
<path d="M1054,309.2 C1055,309.7 1058.2,311 1060.3,311.9 C1062.3,312.9 1064.4,313.9 1066.3,315 C1068.3,316 1070.3,317.1 1072.2,318.3 C1074.1,319.4 1076,320.6 1077.8,321.9 C1079.6,323.1 1081.4,324.4 1083.2,325.7 C1085,327 1086.7,328.4 1088.4,329.8 C1090.1,331.2 1091.7,332.6 1093.3,334.1 C1095,335.5 1096.6,337.1 1098.1,338.6 C1099.7,340.1 1101.2,341.7 1102.7,343.3 C1104.2,344.9 1105.6,346.6 1107,348.3 C1108.5,349.9 1109.8,351.6 1111.2,353.4 C1112.6,355.1 1113.9,356.9 1115.2,358.6 C1116.5,360.4 1117.7,362.2 1119,364.1 C1120.2,365.9 1121.4,367.8 1122.6,369.7 C1123.7,371.6 1124.9,373.5 1126,375.4 C1127.1,377.3 1128.2,379.3 1129.2,381.2 C1130.3,383.2 1131.3,385.2 1132.3,387.2 C1133.3,389.2 1134.2,391.2 1135.2,393.3 C1136.1,395.3 1137,397.4 1137.9,399.4 C1138.8,401.5 1139.6,403.6 1140.5,405.7 C1141.3,407.8 1142.1,409.9 1142.9,412 C1143.6,414.1 1144.4,416.2 1145.1,418.3 C1145.8,420.5 1146.5,422.6 1147.2,424.7 C1147.9,426.9 1148.5,429 1149.1,431.2 C1149.8,433.3 1150.4,435.5 1150.9,437.6 C1151.5,439.8 1152.1,441.9 1152.6,444.1 C1153.1,446.2 1153.6,448.4 1154.1,450.5 C1154.6,452.7 1155,454.8 1155.5,457 C1155.9,459.1 1156.5,462.3 1156.7,463.4" fill="none" stroke="#151515" stroke-width="1.5"/>
<path d="M1156.7,463.4 L1138.6,533.2" fill="none" stroke="#151515" stroke-width="1.5"/>
<path d="M1118.3,361.9 C1119.6,362.7 1123.5,365 1126,366.6 C1128.5,368.3 1131,370 1133.4,371.8 C1135.8,373.5 1138.1,375.3 1140.4,377.2 C1142.7,379.1 1144.9,381 1147.1,383 C1149.3,385 1151.4,387.1 1153.4,389.2 C1155.5,391.2 1157.5,393.4 1159.4,395.6 C1161.4,397.8 1163.3,400 1165.1,402.3 C1167,404.6 1168.7,406.9 1170.5,409.3 C1172.2,411.6 1173.9,414 1175.5,416.5 C1177.1,418.9 1178.7,421.4 1180.2,423.9 C1181.7,426.4 1183.2,429 1184.6,431.6 C1186,434.1 1187.3,436.8 1188.6,439.4 C1189.9,442.1 1191.2,444.7 1192.4,447.4 C1193.6,450.1 1194.7,452.9 1195.8,455.6 C1196.9,458.3 1197.9,461.1 1198.9,463.9 C1199.9,466.7 1200.8,469.5 1201.7,472.3 C1202.6,475.2 1203.5,478 1204.3,480.9 C1205,483.7 1205.8,486.6 1206.5,489.5 C1207.2,492.4 1207.8,495.3 1208.4,498.2 C1209,501.1 1209.5,504 1210,506.9 C1210.5,509.8 1211,512.7 1211.4,515.7 C1211.8,518.6 1212.1,521.5 1212.4,524.4 C1212.7,527.4 1213.1,531.7 1213.2,533.2" fill="none" stroke="#151515" stroke-width="1.5"/>
<path d="M1063.1,156 C1064.5,156 1068.8,156.1 1071.7,156.3 C1074.6,156.4 1077.6,156.5 1080.6,156.7 C1083.5,156.9 1086.5,157.1 1089.6,157.3 C1092.6,157.5 1095.7,157.8 1098.7,158.1 C1101.8,158.5 1104.9,158.8 1107.9,159.2 C1111,159.6 1114.1,160.1 1117.2,160.6 C1120.3,161.1 1123.4,161.6 1126.4,162.2 C1129.5,162.8 1132.5,163.5 1135.6,164.2 C1138.6,164.9 1141.6,165.6 1144.6,166.5 C1147.6,167.3 1150.6,168.2 1153.5,169.2 C1156.4,170.1 1159.3,171.2 1162.1,172.3 C1165,173.4 1167.8,174.5 1170.5,175.8 C1173.3,177 1176,178.3 1178.6,179.7 C1181.2,181.1 1183.8,182.6 1186.3,184.2 C1188.8,185.7 1191.3,187.4 1193.6,189.1 C1196,190.9 1198.3,192.7 1200.5,194.6 C1202.7,196.5 1204.8,198.5 1206.8,200.6 C1208.8,202.7 1210.7,204.9 1212.6,207.2 C1214.4,209.5 1216.1,211.9 1217.7,214.4 C1219.3,216.9 1220.8,219.5 1222.2,222.2 C1223.6,224.9 1224.9,227.6 1226,230.5 C1227.1,233.4 1228.1,236.3 1229,239.4 C1229.9,242.4 1230.8,247.2 1231.2,248.8" fill="none" stroke="#151515" stroke-width="1.5"/>
<path d="M1231.2,248.8 L1212.6,312.5 L1220.2,336.7 L1210.5,384.1" fill="none" stroke="#151515" stroke-width="1.5"/>
<path d="M1153.5,231.5 C1154.5,231.8 1157.7,232.6 1159.7,233.3 C1161.7,234.1 1163.6,234.9 1165.4,235.8 C1167.2,236.8 1169,237.8 1170.7,238.9 C1172.3,240 1173.9,241.2 1175.4,242.5 C1177,243.8 1178.4,245.2 1179.8,246.6 C1181.2,248.1 1182.5,249.6 1183.8,251.2 C1185.1,252.7 1186.3,254.4 1187.5,256 C1188.6,257.7 1189.8,259.5 1190.8,261.2 C1191.9,263 1192.9,264.8 1193.9,266.7 C1194.9,268.5 1195.8,270.4 1196.7,272.3 C1197.6,274.2 1198.5,276.2 1199.4,278.1 C1200.2,280.1 1201,282 1201.8,284 C1202.6,285.9 1203.4,287.9 1204.1,289.9 C1204.9,291.8 1205.6,293.8 1206.3,295.7 C1207,297.6 1207.7,299.6 1208.4,301.5 C1209.1,303.4 1209.8,305.3 1210.5,307.1 C1211.2,308.9 1212.3,311.6 1212.6,312.5" fill="none" stroke="#151515" stroke-width="1.5"/>
<path d="M1131.9,301.6 C1133.3,302.3 1137.4,304.3 1140.1,305.8 C1142.8,307.3 1145.4,308.8 1147.9,310.4 C1150.4,312.1 1152.9,313.7 1155.3,315.5 C1157.7,317.2 1160,319.1 1162.3,320.9 C1164.5,322.8 1166.7,324.8 1168.9,326.8 C1171,328.8 1173.1,330.8 1175.1,332.9 C1177.1,335 1179.1,337.2 1181,339.4 C1182.9,341.6 1184.7,343.9 1186.5,346.2 C1188.3,348.5 1190,350.9 1191.6,353.3 C1193.3,355.7 1194.9,358.1 1196.5,360.6 C1198,363.1 1199.5,365.6 1200.9,368.2 C1202.4,370.8 1203.8,373.4 1205.1,376 C1206.4,378.6 1207.7,381.3 1208.9,384 C1210.2,386.7 1211.3,389.4 1212.5,392.1 C1213.6,394.9 1214.7,397.6 1215.7,400.4 C1216.7,403.2 1217.7,406 1218.6,408.9 C1219.6,411.7 1220.5,414.5 1221.3,417.4 C1222.1,420.3 1222.9,423.1 1223.7,426 C1224.4,428.9 1225.1,431.8 1225.8,434.7 C1226.5,437.6 1227.1,440.5 1227.7,443.4 C1228.3,446.3 1228.8,449.3 1229.3,452.2 C1229.8,455.1 1230.2,458 1230.7,460.9 C1231.1,463.8 1231.6,468.1 1231.8,469.6" fill="none" stroke="#151515" stroke-width="1.5"/>
<path d="M1231.8,469.6 L1219.4,533.2" fill="none" stroke="#151515" stroke-width="1.5"/>
<path d="M1124,155.5 C1125.4,155.4 1129.5,155.3 1132.4,155.2 C1135.2,155.1 1138.1,155 1141,155 C1144,155 1146.9,155 1149.9,155 C1152.9,155.1 1156,155.1 1159,155.2 C1162.1,155.3 1165.1,155.5 1168.2,155.7 C1171.3,155.8 1174.5,156.1 1177.6,156.3 C1180.7,156.6 1183.8,156.9 1187,157.3 C1190.1,157.6 1193.2,158 1196.4,158.5 C1199.5,158.9 1202.6,159.4 1205.8,160 C1208.9,160.5 1212,161.1 1215.1,161.8 C1218.2,162.4 1221.2,163.1 1224.3,163.9 C1227.3,164.7 1230.3,165.5 1233.3,166.4 C1236.3,167.3 1239.3,168.3 1242.2,169.3 C1245.1,170.3 1247.9,171.4 1250.8,172.6 C1253.6,173.7 1256.4,175 1259.1,176.3 C1261.8,177.6 1264.5,179 1267.1,180.4 C1269.7,181.9 1272.2,183.4 1274.7,185 C1277.1,186.6 1279.5,188.3 1281.8,190.1 C1284.2,191.8 1286.4,193.7 1288.6,195.6 C1290.7,197.5 1292.8,199.6 1294.8,201.7 C1296.8,203.8 1298.7,206 1300.4,208.3 C1302.2,210.6 1303.9,213 1305.5,215.4 C1307.1,217.9 1308.6,220.5 1310,223.2 C1311.3,225.8 1312.6,228.6 1313.7,231.5 C1314.8,234.4 1315.9,237.3 1316.7,240.4 C1317.6,243.5 1318.6,248.4 1319,250" fill="none" stroke="#151515" stroke-width="1.5"/>
<path d="M1124,155.5 L1124,162" fill="none" stroke="#151515" stroke-width="1.5"/>
<path d="M1226.9,233.7 C1227.8,233.8 1230.6,233.9 1232.5,234.1 C1234.4,234.3 1236.2,234.5 1238.1,234.7 C1239.9,235 1241.7,235.3 1243.6,235.6 C1245.4,235.9 1247.2,236.3 1249,236.7 C1250.8,237.1 1252.6,237.6 1254.3,238.1 C1256.1,238.6 1257.9,239.1 1259.6,239.6 C1261.3,240.2 1263,240.8 1264.7,241.4 C1266.4,242.1 1268.1,242.8 1269.8,243.5 C1271.4,244.2 1273.1,244.9 1274.7,245.7 C1276.3,246.5 1277.9,247.3 1279.5,248.2 C1281.1,249 1282.6,249.9 1284.2,250.9 C1285.7,251.8 1287.2,252.7 1288.7,253.7 C1290.2,254.7 1291.6,255.8 1293,256.8 C1294.5,257.9 1295.9,259 1297.2,260.2 C1298.6,261.3 1299.9,262.5 1301.3,263.7 C1302.6,264.9 1303.8,266.1 1305.1,267.4 C1306.3,268.7 1307.5,270 1308.7,271.3 C1309.9,272.6 1311.1,274 1312.2,275.4 C1313.3,276.8 1314.4,278.2 1315.4,279.7 C1316.4,281.2 1317.5,282.6 1318.4,284.2 C1319.4,285.7 1320.4,287.2 1321.3,288.8 C1322.2,290.4 1323,291.9 1323.9,293.6 C1324.7,295.2 1325.5,296.8 1326.3,298.5 C1327.1,300.1 1327.8,301.8 1328.5,303.5 C1329.2,305.2 1329.9,306.9 1330.5,308.6 C1331.2,310.3 1331.8,312.1 1332.4,313.9 C1332.9,315.6 1333.5,317.4 1334,319.2 C1334.5,321 1335,322.8 1335.4,324.6 C1335.8,326.4 1336.4,329.1 1336.6,330" fill="none" stroke="#151515" stroke-width="1.5"/>
<path d="M1336.6,330 L1336.6,389.7 L1318.7,423.5" fill="none" stroke="#151515" stroke-width="1.5"/>
<path d="M1226.9,234.6 C1227.9,234.8 1230.9,235.5 1232.8,236 C1234.8,236.5 1236.6,237.1 1238.5,237.8 C1240.3,238.4 1242.1,239.1 1243.9,239.9 C1245.6,240.7 1247.3,241.5 1249,242.4 C1250.7,243.3 1252.3,244.2 1253.9,245.2 C1255.5,246.1 1257.1,247.2 1258.6,248.3 C1260.1,249.3 1261.6,250.5 1263.1,251.6 C1264.5,252.8 1266,254 1267.3,255.3 C1268.7,256.5 1270.1,257.8 1271.4,259.1 C1272.7,260.5 1274,261.8 1275.2,263.2 C1276.5,264.6 1277.7,266.1 1278.9,267.5 C1280.1,269 1281.3,270.5 1282.4,272 C1283.6,273.6 1284.7,275.1 1285.8,276.7 C1286.9,278.3 1287.9,279.9 1289,281.5 C1290,283.1 1291,284.8 1292,286.4 C1293,288.1 1294,289.8 1294.9,291.5 C1295.9,293.2 1296.8,294.9 1297.7,296.6 C1298.6,298.3 1299.5,300.1 1300.4,301.8 C1301.2,303.6 1302.1,305.3 1302.9,307.1 C1303.8,308.9 1304.6,310.6 1305.4,312.4 C1306.2,314.2 1307,316 1307.8,317.7 C1308.6,319.5 1309.3,321.3 1310.1,323 C1310.8,324.8 1311.6,326.6 1312.3,328.3 C1313.1,330.1 1313.8,331.8 1314.5,333.6 C1315.2,335.3 1315.9,337.1 1316.6,338.8 C1317.3,340.5 1318.4,343 1318.7,343.9" fill="none" stroke="#151515" stroke-width="1.5"/>
<path d="M1318.7,343.9 L1318.7,423.5" fill="none" stroke="#151515" stroke-width="1.5"/>
<path d="M1222.3,282.9 C1223.4,283.1 1226.7,283.8 1228.9,284.3 C1231,284.9 1233.1,285.6 1235.1,286.3 C1237.2,287 1239.2,287.8 1241.1,288.7 C1243,289.6 1244.9,290.5 1246.7,291.5 C1248.6,292.5 1250.4,293.6 1252.1,294.7 C1253.9,295.9 1255.6,297.1 1257.2,298.4 C1258.9,299.6 1260.5,300.9 1262,302.3 C1263.6,303.7 1265.1,305.1 1266.6,306.6 C1268.1,308.1 1269.5,309.6 1270.9,311.2 C1272.3,312.7 1273.7,314.4 1275,316 C1276.3,317.7 1277.6,319.3 1278.9,321.1 C1280.1,322.8 1281.3,324.6 1282.5,326.3 C1283.7,328.1 1284.8,330 1285.9,331.8 C1287,333.6 1288.1,335.5 1289.1,337.4 C1290.1,339.3 1291.1,341.2 1292.1,343.1 C1293.1,345 1294,347 1294.9,348.9 C1295.8,350.9 1296.7,352.8 1297.6,354.8 C1298.4,356.8 1299.2,358.7 1300,360.7 C1300.8,362.7 1301.6,364.6 1302.3,366.6 C1303.1,368.6 1304.1,371.5 1304.5,372.5" fill="none" stroke="#151515" stroke-width="1.5"/>
<path d="M1304.5,372.5 L1275.6,411" fill="none" stroke="#151515" stroke-width="1.5"/>
<path d="M1212.6,312.9 C1213.8,313.4 1217.5,314.7 1219.9,315.7 C1222.2,316.8 1224.4,318 1226.6,319.3 C1228.8,320.6 1230.9,322 1233,323.5 C1235,325 1237,326.6 1238.9,328.3 C1240.8,330 1242.6,331.7 1244.4,333.6 C1246.1,335.4 1247.8,337.4 1249.5,339.3 C1251.1,341.3 1252.7,343.4 1254.2,345.5 C1255.7,347.6 1257.2,349.7 1258.6,351.9 C1260,354.1 1261.3,356.4 1262.6,358.6 C1263.9,360.9 1265.2,363.2 1266.4,365.5 C1267.6,367.8 1268.7,370.2 1269.8,372.5 C1270.9,374.9 1272,377.2 1273,379.6 C1274,381.9 1275,384.3 1275.9,386.6 C1276.9,388.9 1278.2,392.3 1278.6,393.5" fill="none" stroke="#151515" stroke-width="1.5"/>
<path d="M1278.6,393.5 L1275.6,411 L1263.4,479.6" fill="none" stroke="#151515" stroke-width="1.5"/>
<path d="M1210.5,377.6 C1211.4,378.3 1214.3,380.3 1216.1,381.7 C1217.8,383.2 1219.6,384.7 1221.2,386.3 C1222.8,387.9 1224.4,389.5 1225.9,391.2 C1227.4,392.9 1228.9,394.7 1230.3,396.5 C1231.7,398.3 1233,400.1 1234.3,402 C1235.5,403.9 1236.8,405.9 1237.9,407.8 C1239.1,409.8 1240.2,411.8 1241.3,413.9 C1242.3,416 1243.4,418 1244.3,420.2 C1245.3,422.3 1246.3,424.4 1247.2,426.6 C1248.1,428.7 1248.9,430.9 1249.7,433.1 C1250.6,435.3 1251.3,437.5 1252.1,439.8 C1252.9,442 1253.6,444.2 1254.3,446.5 C1255,448.7 1255.7,450.9 1256.3,453.2 C1257,455.4 1257.6,457.7 1258.2,459.9 C1258.9,462.1 1259.5,464.3 1260,466.6 C1260.6,468.8 1261.2,471 1261.7,473.1 C1262.3,475.3 1263.1,478.5 1263.4,479.6" fill="none" stroke="#151515" stroke-width="1.5"/>
<path d="M1302.8,376.8 L1318.7,423.5" fill="none" stroke="#151515" stroke-width="1.5"/>
<text x="828.3" y="277.7" font-size="16" textLength="77.4" lengthAdjust="spacingAndGlyphs" fill="#231f20" stroke="#231f20" stroke-width="0.25">NR4 32/200</text>
<text x="828.1" y="350.4" font-size="16" textLength="77.5" lengthAdjust="spacingAndGlyphs" fill="#231f20" stroke="#231f20" stroke-width="0.25">NR4 32/160</text>
<text x="887.6" y="450.8" font-size="16" textLength="48.4" lengthAdjust="spacingAndGlyphs" fill="#231f20" stroke="#231f20" stroke-width="0.25">NR4 50</text>
<text x="1040.4" y="458.9" font-size="16" textLength="48" lengthAdjust="spacingAndGlyphs" fill="#231f20" stroke="#231f20" stroke-width="0.25">NR4 65</text>
<text x="1035.2" y="200.1" font-size="15.5" textLength="76.7" lengthAdjust="spacingAndGlyphs" fill="#231f20" stroke="#231f20" stroke-width="0.25">NR4 50/250</text>
<text x="984.7" y="299.2" font-size="15" textLength="27.4" lengthAdjust="spacingAndGlyphs" fill="#231f20" stroke="#231f20" stroke-width="0.25">NR4</text>
<text x="988.3" y="312" font-size="15" textLength="44.7" lengthAdjust="spacingAndGlyphs" fill="#231f20" stroke="#231f20" stroke-width="0.25">40/200</text>
<text x="983.8" y="354" font-size="15" textLength="27.3" lengthAdjust="spacingAndGlyphs" fill="#231f20" stroke="#231f20" stroke-width="0.25">NR4</text>
<text x="987.4" y="367.7" font-size="15" textLength="42.9" lengthAdjust="spacingAndGlyphs" fill="#231f20" stroke="#231f20" stroke-width="0.25">40/160</text>
<text x="1046" y="272.9" font-size="15" textLength="27.8" lengthAdjust="spacingAndGlyphs" fill="#231f20" stroke="#231f20" stroke-width="0.25">NR4</text>
<text x="1058.7" y="286.8" font-size="15" textLength="43" lengthAdjust="spacingAndGlyphs" fill="#231f20" stroke="#231f20" stroke-width="0.25">50/200</text>
<text x="1056.8" y="373.2" font-size="15" textLength="27.3" lengthAdjust="spacingAndGlyphs" fill="#231f20" stroke="#231f20" stroke-width="0.25">NR4</text>
<text x="1068.6" y="385.9" font-size="15" textLength="43" lengthAdjust="spacingAndGlyphs" fill="#231f20" stroke="#231f20" stroke-width="0.25">50/160</text>
<text x="1155" y="228" font-size="14.5" textLength="62" lengthAdjust="spacingAndGlyphs" fill="#231f20" stroke="#231f20" stroke-width="0.25">NR4 65/250</text>
<text x="1228.2" y="215.3" font-size="14.5" textLength="62" lengthAdjust="spacingAndGlyphs" fill="#231f20" stroke="#231f20" stroke-width="0.25">NR4 80/250</text>
<text x="1257.8" y="287.2" font-size="14.5" textLength="22.6" lengthAdjust="spacingAndGlyphs" fill="#231f20" stroke="#231f20" stroke-width="0.25">NR4</text>
<text x="1257.8" y="302.7" font-size="14.5" textLength="33.9" lengthAdjust="spacingAndGlyphs" fill="#231f20" stroke="#231f20" stroke-width="0.25">80/200</text>
<text x="1292.8" y="290.3" font-size="14.5" textLength="20.9" lengthAdjust="spacingAndGlyphs" fill="#231f20" stroke="#231f20" stroke-width="0.25">NR4</text>
<text x="1301.9" y="304.8" font-size="14.5" textLength="18.2" lengthAdjust="spacingAndGlyphs" fill="#231f20" stroke="#231f20" stroke-width="0.25">125</text>
<text x="1150.7" y="308.3" font-size="14" textLength="55" lengthAdjust="spacingAndGlyphs" fill="#231f20" stroke="#231f20" stroke-width="0.25">NR4 65/200</text>
<text x="1245" y="329.4" font-size="14.5" textLength="21.5" lengthAdjust="spacingAndGlyphs" fill="#231f20" stroke="#231f20" stroke-width="0.25">NR4</text>
<text x="1251.5" y="344.5" font-size="14.5" textLength="33.4" lengthAdjust="spacingAndGlyphs" fill="#231f20" stroke="#231f20" stroke-width="0.25">80/160</text>
<text x="1218" y="377.9" font-size="15" textLength="46.4" lengthAdjust="spacingAndGlyphs" fill="#231f20" stroke="#231f20" stroke-width="0.25">NR4 100</text>
<text x="1141" y="364.8" font-size="15" textLength="24.7" lengthAdjust="spacingAndGlyphs" fill="#231f20" stroke="#231f20" stroke-width="0.25">NR4</text>
<text x="1152" y="379.4" font-size="15" textLength="38.3" lengthAdjust="spacingAndGlyphs" fill="#231f20" stroke="#231f20" stroke-width="0.25">65/160</text>
<text x="1156" y="486.2" font-size="15" textLength="26.1" lengthAdjust="spacingAndGlyphs" fill="#231f20" stroke="#231f20" stroke-width="0.25">NR4</text>
<text x="1156" y="502.4" font-size="15" textLength="39.8" lengthAdjust="spacingAndGlyphs" fill="#231f20" stroke="#231f20" stroke-width="0.25">65/125</text>
<rect x="731.5" y="27" width="613.7" height="506.2" fill="none" stroke="#111" stroke-width="1.3"/>
<rect x="1119.7" y="39.7" width="187.1" height="40.1" fill="#f8f8fb"/>
<text x="1122.2" y="70.4" font-size="30" textLength="55.8" lengthAdjust="spacingAndGlyphs" font-weight="bold" fill="#231f20" stroke="#231f20" stroke-width="0.25">NR4</text>
<text x="1191.7" y="70.4" font-size="20" textLength="108.5" lengthAdjust="spacingAndGlyphs" fill="#231f20" stroke="#231f20" stroke-width="0.25">n ≈ 1450 rpm</text>
<text x="709.4" y="34.4" font-size="15.5" textLength="15.5" lengthAdjust="spacingAndGlyphs" fill="#231f20" stroke="#231f20" stroke-width="0.25">50</text>
<text x="709.4" y="69.7" font-size="15.5" textLength="15.5" lengthAdjust="spacingAndGlyphs" fill="#231f20" stroke="#231f20" stroke-width="0.25">40</text>
<text x="709.4" y="113.5" font-size="15.5" textLength="15.5" lengthAdjust="spacingAndGlyphs" fill="#231f20" stroke="#231f20" stroke-width="0.25">30</text>
<text x="709.4" y="176.4" font-size="15.5" textLength="15.5" lengthAdjust="spacingAndGlyphs" fill="#231f20" stroke="#231f20" stroke-width="0.25">20</text>
<text x="709.4" y="284.3" font-size="15.5" textLength="15.5" lengthAdjust="spacingAndGlyphs" fill="#231f20" stroke="#231f20" stroke-width="0.25">10</text>
<text x="715.8" y="392.7" font-size="15.5" textLength="7.8" lengthAdjust="spacingAndGlyphs" fill="#231f20" stroke="#231f20" stroke-width="0.25">5</text>
<text x="715.8" y="428.8" font-size="15.5" textLength="7.8" lengthAdjust="spacingAndGlyphs" fill="#231f20" stroke="#231f20" stroke-width="0.25">4</text>
<text x="715.5" y="476.2" font-size="15.5" textLength="7.8" lengthAdjust="spacingAndGlyphs" fill="#231f20" stroke="#231f20" stroke-width="0.25">3</text>
<text x="715.5" y="536.8" font-size="15.5" textLength="7.8" lengthAdjust="spacingAndGlyphs" fill="#231f20" stroke="#231f20" stroke-width="0.25">2</text>
<text x="710" y="220.1" font-size="18" textLength="11.1" lengthAdjust="spacingAndGlyphs" font-weight="bold" fill="#231f20" stroke="#231f20" stroke-width="0.25">H</text>
<text x="710" y="238.3" font-size="15.5" textLength="10.4" lengthAdjust="spacingAndGlyphs" fill="#231f20" stroke="#231f20" stroke-width="0.25">m</text>
<text x="729" y="550" font-size="15.5" textLength="8" lengthAdjust="spacingAndGlyphs" fill="#231f20" stroke="#231f20" stroke-width="0.25">1</text>
<text x="818.8" y="550" font-size="15.5" textLength="8" lengthAdjust="spacingAndGlyphs" fill="#231f20" stroke="#231f20" stroke-width="0.25">2</text>
<text x="870" y="550" font-size="15.5" textLength="8" lengthAdjust="spacingAndGlyphs" fill="#231f20" stroke="#231f20" stroke-width="0.25">3</text>
<text x="905.9" y="550" font-size="15.5" textLength="8" lengthAdjust="spacingAndGlyphs" fill="#231f20" stroke="#231f20" stroke-width="0.25">4</text>
<text x="935.7" y="550" font-size="15.5" textLength="8" lengthAdjust="spacingAndGlyphs" fill="#231f20" stroke="#231f20" stroke-width="0.25">5</text>
<text x="1020.5" y="550" font-size="15.5" textLength="16" lengthAdjust="spacingAndGlyphs" fill="#231f20" stroke="#231f20" stroke-width="0.25">10</text>
<text x="1111.1" y="550" font-size="15.5" textLength="16" lengthAdjust="spacingAndGlyphs" fill="#231f20" stroke="#231f20" stroke-width="0.25">20</text>
<text x="1162.1" y="550" font-size="15.5" textLength="16" lengthAdjust="spacingAndGlyphs" fill="#231f20" stroke="#231f20" stroke-width="0.25">30</text>
<text x="1197.9" y="550" font-size="15.5" textLength="16" lengthAdjust="spacingAndGlyphs" fill="#231f20" stroke="#231f20" stroke-width="0.25">40</text>
<text x="1229" y="550" font-size="15.5" textLength="16" lengthAdjust="spacingAndGlyphs" fill="#231f20" stroke="#231f20" stroke-width="0.25">50</text>
<text x="1310.1" y="549.2" font-size="15.5" textLength="24" lengthAdjust="spacingAndGlyphs" fill="#231f20" stroke="#231f20" stroke-width="0.25">100</text>
<text x="745.5" y="568.8" font-size="15.5" textLength="16" lengthAdjust="spacingAndGlyphs" fill="#231f20" stroke="#231f20" stroke-width="0.25">20</text>
<text x="835" y="568.8" font-size="15.5" textLength="16" lengthAdjust="spacingAndGlyphs" fill="#231f20" stroke="#231f20" stroke-width="0.25">40</text>
<text x="864.2" y="568.8" font-size="15.5" textLength="16" lengthAdjust="spacingAndGlyphs" fill="#231f20" stroke="#231f20" stroke-width="0.25">50</text>
<text x="949.8" y="568.8" font-size="15.5" textLength="24" lengthAdjust="spacingAndGlyphs" fill="#231f20" stroke="#231f20" stroke-width="0.25">100</text>
<text x="1001" y="568.8" font-size="15.5" textLength="24" lengthAdjust="spacingAndGlyphs" fill="#231f20" stroke="#231f20" stroke-width="0.25">150</text>
<text x="1039" y="568.8" font-size="15.5" textLength="24" lengthAdjust="spacingAndGlyphs" fill="#231f20" stroke="#231f20" stroke-width="0.25">200</text>
<text x="1090.7" y="568.8" font-size="15.5" textLength="24" lengthAdjust="spacingAndGlyphs" fill="#231f20" stroke="#231f20" stroke-width="0.25">300</text>
<text x="1128.1" y="568.8" font-size="15.5" textLength="24" lengthAdjust="spacingAndGlyphs" fill="#231f20" stroke="#231f20" stroke-width="0.25">400</text>
<text x="1156.8" y="568.8" font-size="15.5" textLength="24" lengthAdjust="spacingAndGlyphs" fill="#231f20" stroke="#231f20" stroke-width="0.25">500</text>
<text x="1243.5" y="568" font-size="15.5" textLength="32.1" lengthAdjust="spacingAndGlyphs" fill="#231f20" stroke="#231f20" stroke-width="0.25">1000</text>
<text x="1294.4" y="568" font-size="15.5" textLength="32.1" lengthAdjust="spacingAndGlyphs" fill="#231f20" stroke="#231f20" stroke-width="0.25">1500</text>
<text x="763.7" y="557.5" font-size="19" textLength="13.6" lengthAdjust="spacingAndGlyphs" font-weight="bold" fill="#231f20" stroke="#231f20" stroke-width="0.25">Q</text>
<text x="782.3" y="552.6" font-size="14" fill="#231f20" stroke="#231f20" stroke-width="0.2">m<tspan font-size="9.5" dy="-5.5">3</tspan><tspan dy="5.5">/h</tspan></text>
<text x="782.3" y="568" font-size="14" textLength="29.1" lengthAdjust="spacingAndGlyphs" fill="#231f20" stroke="#231f20" stroke-width="0.25">l/min</text>
<line x1="732" y1="578.1" x2="1345.7" y2="578.1" stroke="#222" stroke-width="1.3"/>
<line x1="754.6" y1="572.2" x2="754.6" y2="578.1" stroke="#222" stroke-width="1.2"/>
<line x1="806.8" y1="572.2" x2="806.8" y2="578.1" stroke="#222" stroke-width="1.2"/>
<line x1="843.9" y1="572.2" x2="843.9" y2="578.1" stroke="#222" stroke-width="1.2"/>
<line x1="872.6" y1="572.2" x2="872.6" y2="578.1" stroke="#222" stroke-width="1.2"/>
<line x1="896.1" y1="572.2" x2="896.1" y2="578.1" stroke="#222" stroke-width="1.2"/>
<line x1="916" y1="572.2" x2="916" y2="578.1" stroke="#222" stroke-width="1.2"/>
<line x1="933.2" y1="572.2" x2="933.2" y2="578.1" stroke="#222" stroke-width="1.2"/>
<line x1="948.3" y1="572.2" x2="948.3" y2="578.1" stroke="#222" stroke-width="1.2"/>
<line x1="961.9" y1="572.2" x2="961.9" y2="578.1" stroke="#222" stroke-width="1.2"/>
<line x1="1014.1" y1="572.2" x2="1014.1" y2="578.1" stroke="#222" stroke-width="1.2"/>
<line x1="1051.2" y1="572.2" x2="1051.2" y2="578.1" stroke="#222" stroke-width="1.2"/>
<line x1="1079.9" y1="572.2" x2="1079.9" y2="578.1" stroke="#222" stroke-width="1.2"/>
<line x1="1103.4" y1="572.2" x2="1103.4" y2="578.1" stroke="#222" stroke-width="1.2"/>
<line x1="1123.3" y1="572.2" x2="1123.3" y2="578.1" stroke="#222" stroke-width="1.2"/>
<line x1="1140.5" y1="572.2" x2="1140.5" y2="578.1" stroke="#222" stroke-width="1.2"/>
<line x1="1155.7" y1="572.2" x2="1155.7" y2="578.1" stroke="#222" stroke-width="1.2"/>
<line x1="1169.2" y1="572.2" x2="1169.2" y2="578.1" stroke="#222" stroke-width="1.2"/>
<line x1="1192.7" y1="572.2" x2="1192.7" y2="578.1" stroke="#222" stroke-width="1.2"/>
<line x1="1212.6" y1="572.2" x2="1212.6" y2="578.1" stroke="#222" stroke-width="1.2"/>
<line x1="1229.8" y1="572.2" x2="1229.8" y2="578.1" stroke="#222" stroke-width="1.2"/>
<line x1="1244.9" y1="572.2" x2="1244.9" y2="578.1" stroke="#222" stroke-width="1.2"/>
<line x1="1258.5" y1="572.2" x2="1258.5" y2="578.1" stroke="#222" stroke-width="1.2"/>
<line x1="1310.7" y1="572.2" x2="1310.7" y2="578.1" stroke="#222" stroke-width="1.2"/>
</svg></body></html>
